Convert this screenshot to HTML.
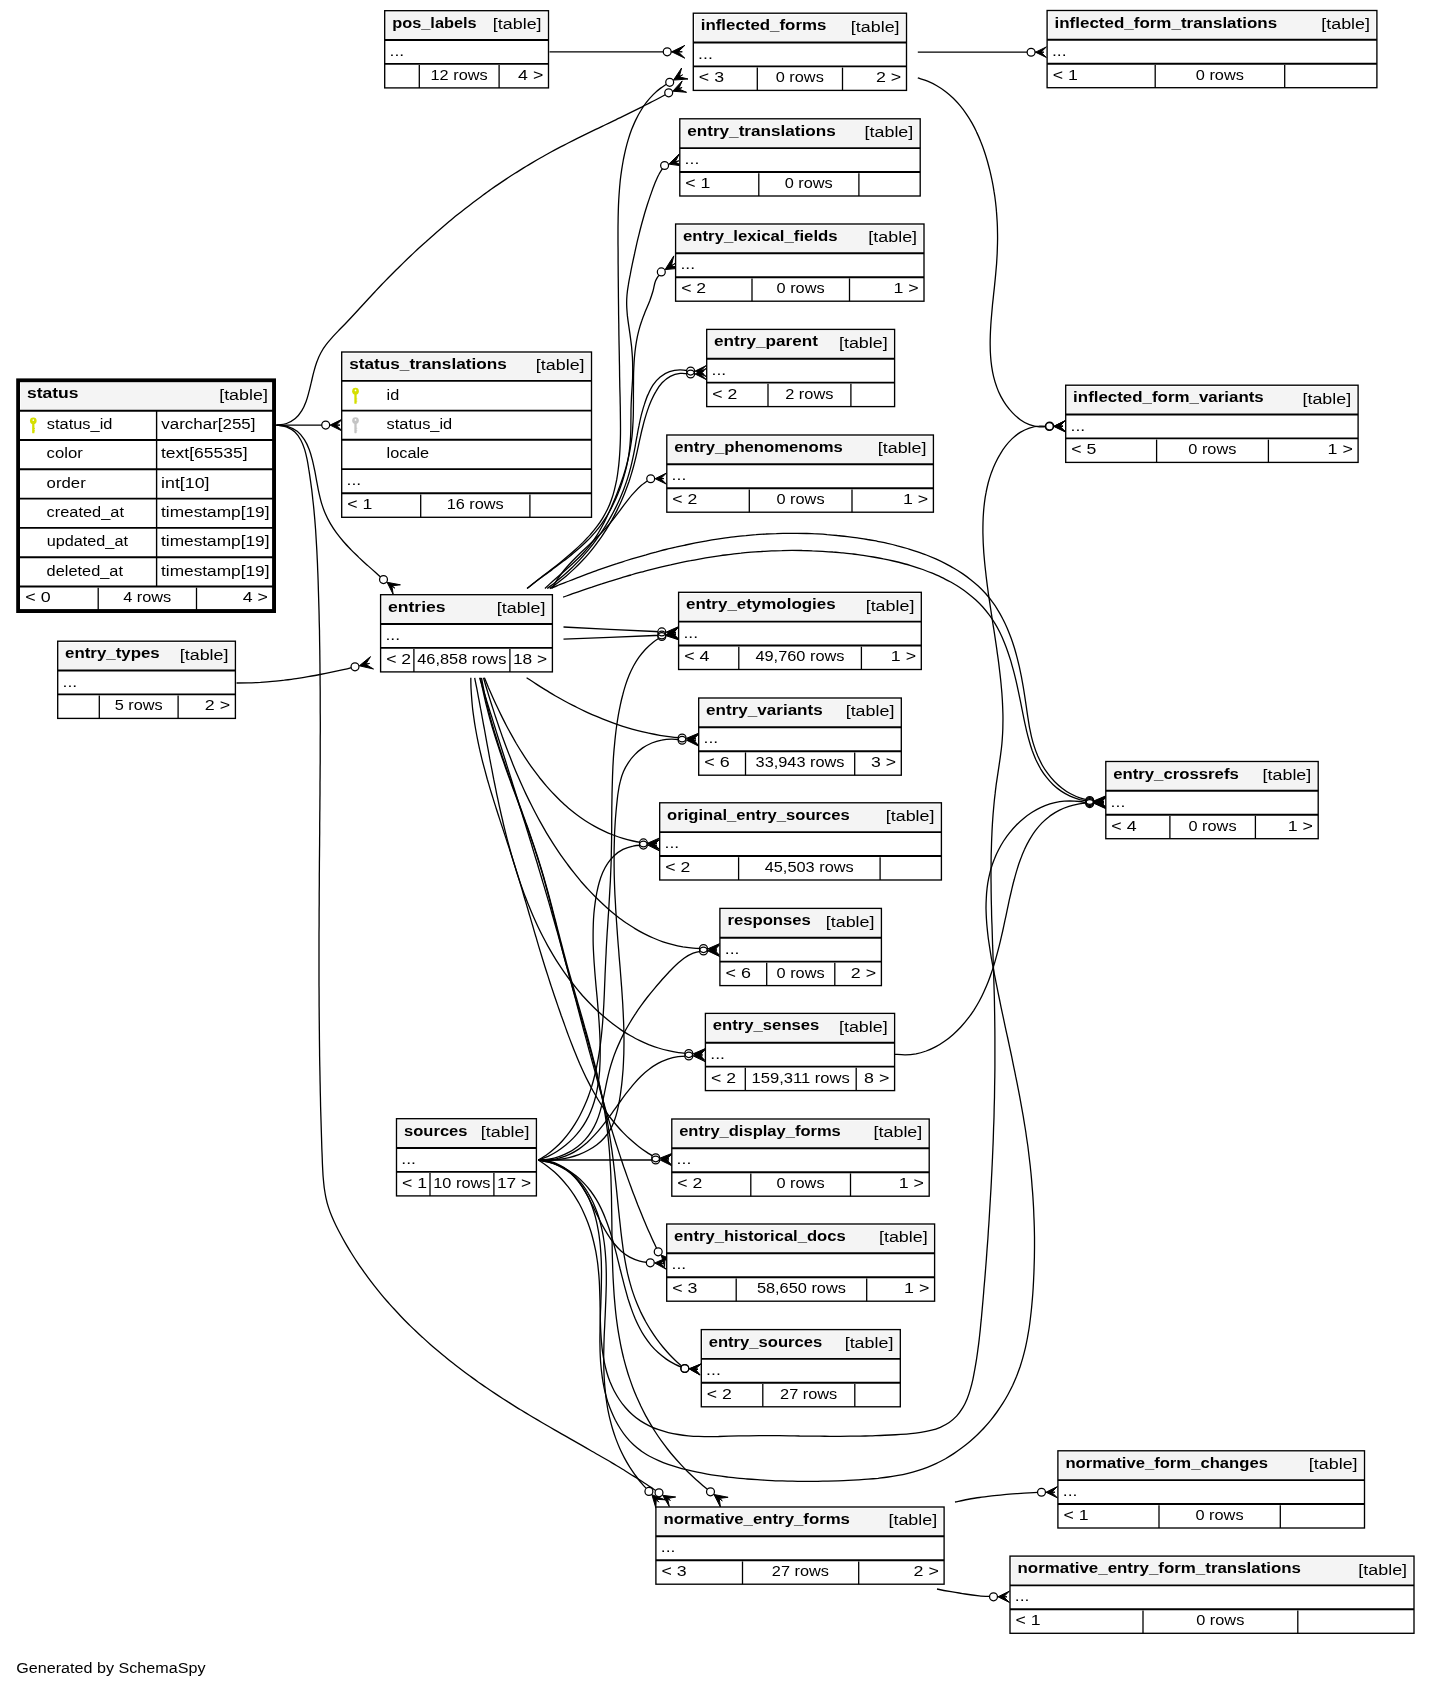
<!DOCTYPE html>
<html><head><meta charset="utf-8"><title>SchemaSpy relationships</title>
<style>
html,body{margin:0;padding:0;background:#fff;}
svg{display:block;will-change:transform;}
text{font-family:"Liberation Sans",sans-serif;font-size:15.2px;fill:#000;}
</style></head>
<body>
<svg width="1429" height="1688" viewBox="0 0 1429 1688">
<rect width="1429" height="1688" fill="#fff"/>
<g fill="none" stroke="#000" stroke-width="1.3"><path d="M276.4,425.1 C284.0,425.1 313.7,425.1 321.9,425.1 C330.1,425.1 325.1,425.1 325.7,425.1"/>
<path d="M276.4,425.1 C278.1,424.8 283.3,424.6 286.5,423.5 C289.6,422.5 292.8,420.7 295.3,418.6 C297.9,416.5 300.0,413.6 301.8,410.7 C303.6,407.9 304.9,404.7 306.1,401.5 C307.3,398.3 308.1,395.0 309.0,391.7 C309.9,388.4 310.6,385.1 311.4,381.8 C312.2,378.5 312.9,375.2 313.8,371.9 C314.7,368.6 315.6,365.3 316.8,362.1 C317.9,358.9 319.2,355.7 320.9,352.7 C322.5,349.8 324.4,346.9 326.5,344.2 C328.5,341.5 330.8,339.0 333.1,336.4 C335.3,333.9 337.7,331.5 340.1,329.0 C342.5,326.6 344.9,324.2 347.2,321.7 C349.6,319.2 351.9,316.7 354.2,314.2 C356.5,311.8 358.8,309.2 361.1,306.7 C363.4,304.2 365.7,301.7 368.0,299.2 C370.3,296.7 372.7,294.2 375.0,291.7 C377.3,289.3 379.7,286.8 382.0,284.3 C384.4,281.9 386.7,279.4 389.1,277.0 C391.5,274.6 393.9,272.2 396.3,269.8 C398.7,267.4 401.2,265.0 403.6,262.6 C406.1,260.2 408.5,257.9 411.0,255.5 C413.4,253.2 415.9,250.9 418.4,248.5 C420.9,246.2 423.4,243.9 426.0,241.7 C428.5,239.4 431.0,237.1 433.6,234.9 C436.2,232.6 438.7,230.4 441.3,228.2 C443.9,226.0 446.5,223.8 449.1,221.6 C451.7,219.4 454.4,217.3 457.0,215.1 C459.7,213.0 462.3,210.9 465.0,208.8 C467.7,206.7 470.4,204.6 473.1,202.5 C475.8,200.5 478.6,198.4 481.3,196.4 C484.0,194.4 486.8,192.4 489.6,190.4 C492.3,188.5 495.1,186.5 497.9,184.6 C500.8,182.7 503.6,180.8 506.4,178.9 C509.2,177.0 512.1,175.1 515.0,173.3 C517.8,171.5 520.7,169.7 523.6,167.9 C526.5,166.1 529.4,164.3 532.4,162.6 C535.3,160.9 538.3,159.2 541.2,157.5 C544.2,155.8 547.2,154.2 550.1,152.5 C553.1,150.9 556.1,149.3 559.2,147.7 C562.2,146.1 565.2,144.6 568.2,143.0 C571.3,141.5 574.3,140.0 577.3,138.4 C580.4,136.9 583.4,135.4 586.5,133.9 C589.6,132.4 592.6,130.9 595.7,129.4 C598.8,128.0 601.8,126.5 604.9,125.0 C608.0,123.5 611.0,122.1 614.1,120.6 C617.1,119.1 620.2,117.6 623.3,116.1 C626.3,114.6 629.4,113.1 632.4,111.6 C635.5,110.1 638.5,108.6 641.6,107.1 C644.6,105.5 647.7,104.0 650.7,102.4 C653.7,100.9 656.7,99.3 659.7,97.7 C662.7,96.1 667.2,93.6 668.7,92.8"/>
<path d="M276.4,425.1 C278.2,425.3 283.9,425.3 287.4,426.3 C290.8,427.4 294.3,429.1 297.2,431.3 C300.0,433.5 302.4,436.5 304.4,439.6 C306.4,442.6 307.9,446.1 309.2,449.5 C310.5,452.9 311.5,456.5 312.4,460.1 C313.3,463.7 314.0,467.3 314.8,470.9 C315.5,474.5 316.1,478.2 316.8,481.8 C317.5,485.4 318.1,489.1 318.9,492.7 C319.7,496.3 320.5,499.9 321.6,503.4 C322.7,506.9 323.9,510.4 325.4,513.8 C326.8,517.2 328.6,520.5 330.4,523.6 C332.3,526.8 334.3,529.9 336.5,532.9 C338.7,535.8 341.0,538.7 343.4,541.5 C345.8,544.3 348.4,547.0 350.9,549.6 C353.5,552.3 356.2,554.8 358.8,557.4 C361.5,559.9 364.3,562.4 367.0,564.9 C369.7,567.3 372.5,569.8 375.3,572.2 C378.0,574.7 382.1,578.4 383.5,579.6"/>
<path d="M276.4,425.1 C278.1,425.4 283.3,425.7 286.3,426.8 C289.4,428.0 292.5,429.9 294.9,432.1 C297.3,434.3 299.3,437.3 300.9,440.2 C302.5,443.1 303.6,446.4 304.7,449.6 C305.7,452.8 306.4,456.1 307.1,459.4 C307.8,462.7 308.3,466.1 308.8,469.4 C309.4,472.7 309.8,476.1 310.3,479.4 C310.8,482.7 311.2,486.1 311.7,489.4 C312.1,492.8 312.5,496.1 312.8,499.5 C313.2,502.8 313.6,506.2 313.9,509.6 C314.2,512.9 314.5,516.3 314.8,519.6 C315.1,523.0 315.3,526.4 315.6,529.7 C315.8,533.1 316.0,536.5 316.2,539.8 C316.4,543.2 316.6,546.6 316.8,549.9 C317.0,553.3 317.1,556.7 317.3,560.1 C317.5,563.4 317.6,566.8 317.7,570.2 C317.9,573.5 318.0,576.9 318.1,580.3 C318.2,583.7 318.3,587.0 318.4,590.4 C318.5,593.8 318.6,597.2 318.7,600.5 C318.8,603.9 318.9,607.3 319.0,610.6 C319.1,614.0 319.2,617.4 319.2,620.8 C319.3,624.1 319.4,627.5 319.5,630.9 C319.5,634.3 319.6,637.6 319.6,641.0 C319.7,644.4 319.7,647.8 319.8,651.1 C319.8,654.5 319.9,657.9 319.9,661.3 C320.0,664.6 320.0,668.0 320.0,671.4 C320.1,674.8 320.1,678.1 320.1,681.5 C320.1,684.9 320.2,688.3 320.2,691.6 C320.2,695.0 320.2,698.4 320.2,701.8 C320.2,705.1 320.2,708.5 320.2,711.9 C320.3,715.3 320.3,718.6 320.3,722.0 C320.3,725.4 320.3,728.8 320.3,732.1 C320.2,735.5 320.2,738.9 320.2,742.2 C320.2,745.6 320.2,749.0 320.2,752.4 C320.2,755.7 320.2,759.1 320.2,762.5 C320.1,765.9 320.1,769.2 320.1,772.6 C320.1,776.0 320.1,779.4 320.0,782.7 C320.0,786.1 320.0,789.5 320.0,792.9 C320.0,796.2 319.9,799.6 319.9,803.0 C319.9,806.4 319.9,809.7 319.8,813.1 C319.8,816.5 319.8,819.9 319.7,823.2 C319.7,826.6 319.7,830.0 319.7,833.4 C319.6,836.7 319.6,840.1 319.6,843.5 C319.6,846.9 319.5,850.2 319.5,853.6 C319.5,857.0 319.4,860.4 319.4,863.7 C319.4,867.1 319.4,870.5 319.3,873.9 C319.3,877.2 319.3,880.6 319.3,884.0 C319.3,887.4 319.2,890.7 319.2,894.1 C319.2,897.5 319.2,900.9 319.2,904.2 C319.1,907.6 319.1,911.0 319.1,914.4 C319.1,917.7 319.1,921.1 319.1,924.5 C319.1,927.9 319.0,931.2 319.0,934.6 C319.0,938.0 319.0,941.4 319.0,944.7 C319.0,948.1 319.0,951.5 319.0,954.8 C319.0,958.2 319.0,961.6 319.0,965.0 C319.0,968.3 319.0,971.7 319.0,975.1 C319.0,978.5 319.0,981.8 319.0,985.2 C319.1,988.6 319.1,992.0 319.1,995.3 C319.1,998.7 319.1,1002.1 319.1,1005.5 C319.2,1008.8 319.2,1012.2 319.2,1015.6 C319.2,1019.0 319.3,1022.3 319.3,1025.7 C319.3,1029.1 319.4,1032.5 319.4,1035.8 C319.4,1039.2 319.5,1042.6 319.5,1046.0 C319.6,1049.3 319.6,1052.7 319.6,1056.1 C319.7,1059.5 319.7,1062.8 319.8,1066.2 C319.9,1069.6 319.9,1073.0 320.0,1076.3 C320.0,1079.7 320.1,1083.1 320.2,1086.5 C320.2,1089.8 320.3,1093.2 320.4,1096.6 C320.5,1099.9 320.5,1103.3 320.6,1106.7 C320.7,1110.1 320.8,1113.4 320.9,1116.8 C321.0,1120.2 321.1,1123.6 321.2,1126.9 C321.3,1130.3 321.4,1133.7 321.5,1137.1 C321.6,1140.4 321.7,1143.8 321.8,1147.2 C321.9,1150.5 322.1,1153.9 322.2,1157.3 C322.3,1160.7 322.4,1164.0 322.6,1167.4 C322.8,1170.8 322.9,1174.2 323.2,1177.5 C323.5,1180.9 323.8,1184.2 324.2,1187.6 C324.7,1190.9 325.2,1194.3 325.9,1197.6 C326.6,1200.9 327.4,1204.1 328.5,1207.4 C329.5,1210.6 330.7,1213.7 332.0,1216.8 C333.3,1220.0 334.7,1223.0 336.2,1226.0 C337.7,1229.1 339.3,1232.1 340.9,1235.0 C342.5,1238.0 344.1,1240.9 345.8,1243.9 C347.5,1246.8 349.2,1249.7 351.0,1252.5 C352.8,1255.4 354.6,1258.3 356.5,1261.1 C358.3,1263.9 360.2,1266.7 362.2,1269.4 C364.1,1272.2 366.1,1274.9 368.1,1277.7 C370.1,1280.4 372.1,1283.0 374.2,1285.7 C376.3,1288.4 378.4,1291.0 380.6,1293.6 C382.7,1296.2 384.9,1298.8 387.1,1301.3 C389.4,1303.8 391.6,1306.4 393.9,1308.8 C396.2,1311.3 398.5,1313.8 400.8,1316.2 C403.1,1318.7 405.5,1321.1 407.9,1323.5 C410.3,1325.8 412.7,1328.2 415.2,1330.5 C417.6,1332.9 420.1,1335.2 422.6,1337.4 C425.0,1339.7 427.6,1342.0 430.1,1344.2 C432.6,1346.4 435.2,1348.6 437.8,1350.8 C440.3,1353.0 443.0,1355.1 445.6,1357.2 C448.2,1359.4 450.8,1361.5 453.5,1363.6 C456.1,1365.6 458.8,1367.7 461.5,1369.7 C464.2,1371.8 466.9,1373.8 469.6,1375.8 C472.4,1377.8 475.1,1379.7 477.8,1381.7 C480.6,1383.6 483.4,1385.6 486.2,1387.5 C488.9,1389.4 491.7,1391.3 494.5,1393.1 C497.3,1395.0 500.2,1396.9 503.0,1398.7 C505.8,1400.5 508.7,1402.3 511.5,1404.1 C514.4,1405.9 517.3,1407.7 520.1,1409.5 C523.0,1411.2 525.9,1413.0 528.8,1414.7 C531.7,1416.5 534.6,1418.2 537.5,1419.9 C540.4,1421.6 543.3,1423.3 546.2,1425.0 C549.2,1426.7 552.1,1428.4 555.0,1430.1 C557.9,1431.8 560.9,1433.4 563.8,1435.1 C566.7,1436.8 569.7,1438.4 572.6,1440.1 C575.5,1441.8 578.5,1443.5 581.4,1445.1 C584.3,1446.8 587.2,1448.5 590.2,1450.2 C593.1,1451.8 596.0,1453.5 598.9,1455.2 C601.9,1456.9 604.8,1458.6 607.7,1460.3 C610.6,1462.0 613.5,1463.8 616.4,1465.5 C619.3,1467.2 622.2,1469.0 625.0,1470.7 C627.9,1472.5 630.8,1474.3 633.6,1476.1 C636.5,1477.9 639.3,1479.7 642.2,1481.5 C645.0,1483.4 647.8,1485.2 650.6,1487.1 C653.4,1489.0 657.6,1491.9 659.0,1492.8"/>
<path d="M549.5,51.8 C568.4,51.8 643.4,51.8 663.0,51.8 C682.6,51.8 666.5,51.8 667.2,51.8"/>
<path d="M917.8,52.2 C936.0,52.2 1008.1,52.2 1027.0,52.2 C1045.9,52.2 1030.4,52.2 1031.1,52.2"/>
<path d="M917.8,77.9 C919.4,78.5 924.4,79.9 927.6,81.2 C930.8,82.5 933.9,84.1 936.8,85.8 C939.8,87.5 942.7,89.4 945.4,91.5 C948.2,93.6 950.8,95.9 953.3,98.3 C955.7,100.7 958.1,103.2 960.3,105.9 C962.5,108.5 964.5,111.3 966.4,114.1 C968.4,117.0 970.2,119.9 971.9,122.9 C973.6,125.9 975.2,129.0 976.6,132.1 C978.1,135.2 979.5,138.4 980.7,141.6 C982.0,144.8 983.2,148.0 984.3,151.3 C985.4,154.5 986.4,157.8 987.4,161.2 C988.3,164.5 989.2,167.8 990.0,171.2 C990.8,174.5 991.5,177.9 992.2,181.2 C992.9,184.6 993.5,188.0 994.0,191.4 C994.6,194.8 995.1,198.2 995.5,201.7 C995.9,205.1 996.3,208.5 996.5,211.9 C996.8,215.4 997.0,218.8 997.2,222.2 C997.4,225.7 997.5,229.1 997.5,232.6 C997.6,236.0 997.6,239.5 997.5,242.9 C997.4,246.4 997.3,249.8 997.2,253.2 C997.0,256.7 996.8,260.1 996.6,263.6 C996.3,267.0 996.0,270.4 995.7,273.9 C995.4,277.3 995.1,280.7 994.7,284.1 C994.4,287.6 994.0,291.0 993.6,294.4 C993.3,297.9 992.9,301.3 992.5,304.7 C992.2,308.1 991.9,311.6 991.6,315.0 C991.3,318.4 991.0,321.9 990.8,325.3 C990.6,328.7 990.4,332.2 990.3,335.6 C990.2,339.1 990.1,342.5 990.2,346.0 C990.2,349.4 990.3,352.8 990.6,356.3 C990.8,359.7 991.2,363.2 991.7,366.6 C992.2,370.0 992.8,373.4 993.6,376.7 C994.4,380.0 995.4,383.4 996.6,386.6 C997.7,389.8 999.1,393.0 1000.7,396.1 C1002.3,399.1 1004.0,402.1 1006.0,404.9 C1008.0,407.7 1010.2,410.4 1012.6,412.9 C1015.0,415.4 1017.5,417.7 1020.3,419.7 C1023.1,421.7 1026.2,423.5 1029.4,424.7 C1032.6,425.9 1036.0,426.7 1039.4,426.9 C1042.8,427.2 1048.0,426.2 1049.7,426.1"/>
<path d="M527.1,588.4 C528.5,587.3 532.5,584.1 535.2,582.0 C537.9,579.8 540.7,577.7 543.4,575.6 C546.1,573.5 548.9,571.4 551.6,569.3 C554.3,567.2 557.0,565.1 559.7,562.9 C562.4,560.7 565.1,558.6 567.7,556.3 C570.3,554.1 572.9,551.9 575.5,549.5 C578.0,547.2 580.5,544.8 583.0,542.4 C585.4,539.9 587.8,537.4 590.1,534.9 C592.3,532.3 594.6,529.6 596.6,526.9 C598.7,524.1 600.7,521.3 602.5,518.3 C604.3,515.4 606.0,512.4 607.5,509.3 C609.0,506.2 610.3,503.0 611.4,499.7 C612.6,496.5 613.6,493.2 614.4,489.8 C615.3,486.5 616.0,483.1 616.7,479.7 C617.3,476.3 617.8,472.9 618.2,469.5 C618.7,466.1 619.0,462.6 619.3,459.2 C619.6,455.8 619.8,452.3 620.0,448.9 C620.2,445.4 620.3,442.0 620.4,438.5 C620.5,435.1 620.5,431.7 620.5,428.2 C620.5,424.8 620.5,421.3 620.4,417.9 C620.4,414.4 620.3,411.0 620.3,407.5 C620.2,404.1 620.1,400.6 620.1,397.2 C620.0,393.7 619.9,390.3 619.8,386.8 C619.8,383.4 619.7,379.9 619.6,376.5 C619.6,373.0 619.5,369.6 619.5,366.1 C619.4,362.7 619.3,359.2 619.3,355.8 C619.2,352.3 619.2,348.9 619.1,345.4 C619.0,342.0 619.0,338.5 618.9,335.1 C618.9,331.6 618.8,328.2 618.8,324.7 C618.7,321.3 618.7,317.9 618.6,314.4 C618.6,311.0 618.6,307.5 618.5,304.1 C618.5,300.6 618.4,297.2 618.4,293.7 C618.4,290.3 618.3,286.8 618.3,283.4 C618.3,279.9 618.2,276.5 618.2,273.0 C618.2,269.6 618.2,266.1 618.1,262.7 C618.1,259.2 618.1,255.8 618.1,252.3 C618.1,248.9 618.0,245.4 618.0,242.0 C618.0,238.5 618.0,235.1 618.0,231.6 C618.0,228.2 618.0,224.7 618.1,221.3 C618.1,217.8 618.2,214.4 618.3,210.9 C618.4,207.5 618.5,204.0 618.7,200.6 C618.9,197.2 619.1,193.7 619.4,190.3 C619.6,186.8 620.0,183.4 620.3,180.0 C620.7,176.5 621.2,173.1 621.7,169.7 C622.2,166.3 622.8,162.9 623.4,159.5 C624.1,156.1 624.8,152.8 625.6,149.4 C626.4,146.1 627.3,142.7 628.3,139.4 C629.3,136.1 630.4,132.8 631.6,129.6 C632.9,126.4 634.2,123.2 635.7,120.1 C637.2,117.0 638.8,113.9 640.6,111.0 C642.3,108.0 644.3,105.1 646.4,102.4 C648.5,99.7 650.7,97.1 653.2,94.6 C655.6,92.2 658.2,89.9 661.0,87.9 C663.7,85.8 668.2,83.2 669.7,82.3"/>
<path d="M527.1,588.4 C528.5,587.3 532.6,584.1 535.3,582.0 C538.1,579.9 540.9,577.8 543.7,575.8 C546.5,573.7 549.3,571.6 552.1,569.6 C554.9,567.5 557.7,565.4 560.5,563.3 C563.3,561.2 566.1,559.1 568.8,557.0 C571.5,554.8 574.2,552.6 576.8,550.3 C579.5,548.1 582.1,545.7 584.6,543.3 C587.1,540.9 589.6,538.5 591.9,535.9 C594.3,533.3 596.5,530.7 598.7,527.9 C600.8,525.2 602.8,522.3 604.7,519.4 C606.6,516.5 608.4,513.5 610.1,510.5 C611.7,507.4 613.3,504.3 614.7,501.1 C616.2,498.0 617.5,494.7 618.8,491.5 C620.1,488.3 621.2,485.0 622.3,481.7 C623.4,478.4 624.4,475.0 625.3,471.7 C626.2,468.3 627.0,464.9 627.6,461.5 C628.3,458.1 628.9,454.6 629.3,451.2 C629.8,447.7 630.1,444.3 630.3,440.8 C630.6,437.3 630.7,433.8 630.8,430.4 C630.9,426.9 630.9,423.4 630.9,419.9 C631.0,416.4 631.0,413.0 631.0,409.5 C631.1,406.0 631.2,402.5 631.4,399.1 C631.5,395.6 631.8,392.1 632.0,388.6 C632.2,385.2 632.5,381.7 632.6,378.2 C632.7,374.7 632.7,371.2 632.7,367.8 C632.7,364.3 632.6,360.8 632.4,357.3 C632.2,353.9 631.9,350.4 631.6,346.9 C631.2,343.5 630.8,340.0 630.3,336.6 C629.9,333.1 629.3,329.7 628.8,326.2 C628.3,322.8 627.8,319.3 627.4,315.9 C627.1,312.4 626.8,308.9 626.7,305.5 C626.6,302.0 626.7,298.5 627.0,295.0 C627.3,291.6 627.8,288.1 628.4,284.7 C628.9,281.2 629.6,277.8 630.3,274.4 C630.9,271.0 631.6,267.6 632.3,264.2 C633.0,260.8 633.7,257.4 634.5,254.0 C635.2,250.6 636.0,247.2 636.7,243.8 C637.5,240.4 638.3,237.0 639.2,233.6 C640.0,230.2 640.9,226.9 641.8,223.5 C642.7,220.2 643.7,216.8 644.6,213.5 C645.6,210.1 646.7,206.8 647.7,203.5 C648.8,200.2 649.9,196.9 651.1,193.6 C652.2,190.3 653.4,187.0 654.7,183.8 C656.1,180.6 657.3,177.3 659.0,174.3 C660.6,171.2 663.7,167.0 664.6,165.5"/>
<path d="M544.9,588.4 C546.2,587.2 550.1,583.6 552.7,581.2 C555.4,578.9 558.0,576.6 560.7,574.3 C563.3,571.9 566.0,569.6 568.7,567.2 C571.3,564.9 573.9,562.5 576.4,560.0 C579.0,557.6 581.5,555.1 583.8,552.5 C586.2,549.9 588.5,547.2 590.7,544.4 C592.8,541.5 594.8,538.6 596.7,535.6 C598.6,532.7 600.3,529.6 602.0,526.5 C603.7,523.4 605.3,520.2 606.8,517.0 C608.3,513.8 609.8,510.6 611.2,507.4 C612.6,504.1 614.0,500.9 615.4,497.6 C616.7,494.3 618.0,491.0 619.2,487.7 C620.5,484.4 621.6,481.1 622.8,477.7 C623.9,474.4 624.9,471.0 625.9,467.6 C626.8,464.2 627.7,460.8 628.5,457.3 C629.3,453.9 630.0,450.4 630.5,446.9 C631.1,443.4 631.6,439.9 632.0,436.4 C632.4,432.9 632.6,429.4 632.8,425.9 C633.1,422.3 633.2,418.8 633.3,415.3 C633.4,411.7 633.4,408.2 633.4,404.7 C633.5,401.1 633.4,397.6 633.4,394.1 C633.5,390.5 633.4,387.0 633.5,383.5 C633.5,379.9 633.5,376.4 633.6,372.9 C633.7,369.3 633.9,365.8 634.1,362.3 C634.3,358.7 634.6,355.2 635.0,351.7 C635.4,348.2 635.9,344.7 636.5,341.2 C637.1,337.7 637.8,334.2 638.7,330.8 C639.6,327.4 640.6,324.0 641.8,320.7 C642.9,317.3 644.3,314.1 645.6,310.8 C647.0,307.5 648.4,304.3 649.7,301.0 C650.9,297.7 652.0,294.3 653.0,291.0 C654.0,287.6 654.2,283.9 655.6,280.7 C657.0,277.5 660.4,273.4 661.3,271.9"/>
<path d="M547.2,588.4 C548.6,587.3 553.0,584.2 555.8,581.9 C558.6,579.7 561.3,577.4 564.0,575.1 C566.7,572.7 569.3,570.3 571.9,567.8 C574.4,565.3 576.9,562.7 579.4,560.1 C581.8,557.5 584.2,554.8 586.5,552.1 C588.8,549.4 591.0,546.6 593.2,543.8 C595.4,540.9 597.5,538.0 599.5,535.1 C601.6,532.2 603.5,529.2 605.4,526.1 C607.3,523.1 609.1,520.0 610.8,516.9 C612.6,513.8 614.2,510.6 615.8,507.4 C617.4,504.2 618.9,500.9 620.3,497.7 C621.7,494.4 623.1,491.1 624.3,487.7 C625.6,484.4 626.7,481.0 627.8,477.6 C628.9,474.2 629.8,470.7 630.7,467.3 C631.6,463.8 632.4,460.3 633.1,456.8 C633.9,453.3 634.5,449.8 635.2,446.3 C635.8,442.8 636.4,439.2 637.1,435.7 C637.7,432.2 638.3,428.7 639.1,425.2 C639.8,421.7 640.5,418.2 641.4,414.7 C642.3,411.3 643.2,407.8 644.4,404.4 C645.5,401.0 646.6,397.6 648.1,394.4 C649.6,391.1 651.1,387.8 653.1,384.9 C655.1,382.0 657.4,379.1 660.2,376.9 C662.9,374.7 666.2,372.9 669.5,371.7 C672.8,370.5 676.5,369.9 680.0,369.8 C683.5,369.7 688.8,370.9 690.6,371.1"/>
<path d="M549.6,588.4 C551.0,587.4 555.3,584.5 558.1,582.4 C560.9,580.3 563.6,578.1 566.3,575.9 C569.0,573.6 571.6,571.3 574.1,568.9 C576.7,566.5 579.1,564.0 581.5,561.5 C583.9,559.0 586.3,556.4 588.5,553.8 C590.8,551.1 593.0,548.4 595.1,545.6 C597.2,542.9 599.3,540.0 601.3,537.2 C603.2,534.3 605.1,531.4 607.0,528.4 C608.8,525.5 610.6,522.4 612.3,519.4 C613.9,516.3 615.6,513.3 617.1,510.1 C618.6,507.0 620.1,503.8 621.5,500.7 C622.9,497.5 624.2,494.2 625.5,491.0 C626.8,487.7 627.9,484.5 629.1,481.2 C630.2,477.9 631.2,474.5 632.2,471.2 C633.2,467.8 634.1,464.5 634.9,461.1 C635.8,457.7 636.5,454.3 637.3,450.9 C638.1,447.5 638.8,444.1 639.5,440.7 C640.3,437.3 641.0,433.9 641.8,430.5 C642.7,427.1 643.5,423.7 644.4,420.4 C645.4,417.0 646.4,413.7 647.5,410.4 C648.6,407.1 649.9,403.8 651.3,400.6 C652.7,397.4 654.1,394.2 656.0,391.3 C657.8,388.3 659.7,385.3 662.1,382.8 C664.5,380.4 667.2,378.0 670.3,376.4 C673.3,374.8 676.8,373.8 680.2,373.4 C683.6,373.0 688.9,373.9 690.6,374.0"/>
<path d="M552.0,588.4 C553.0,586.8 555.7,581.8 557.8,578.6 C560.0,575.5 562.3,572.4 564.7,569.5 C567.2,566.6 569.7,563.8 572.4,561.0 C575.0,558.3 577.7,555.6 580.4,553.0 C583.2,550.3 586.0,547.7 588.7,545.1 C591.5,542.5 594.2,539.9 596.9,537.2 C599.7,534.5 602.4,531.9 604.9,529.1 C607.5,526.3 610.0,523.4 612.4,520.4 C614.8,517.5 617.0,514.4 619.3,511.4 C621.6,508.3 623.8,505.2 626.2,502.2 C628.5,499.2 630.8,496.2 633.4,493.4 C635.9,490.6 638.5,487.8 641.4,485.3 C644.3,482.9 649.2,479.8 650.7,478.7"/>
<path d="M550.2,588.6 C551.8,588.0 556.5,586.0 559.6,584.7 C562.8,583.5 565.9,582.2 569.1,581.0 C572.2,579.7 575.4,578.5 578.5,577.3 C581.7,576.1 584.9,574.9 588.1,573.7 C591.2,572.5 594.4,571.4 597.6,570.2 C600.8,569.1 604.0,568.0 607.2,566.9 C610.4,565.8 613.7,564.7 616.9,563.7 C620.1,562.6 623.3,561.6 626.6,560.5 C629.8,559.5 633.1,558.5 636.3,557.6 C639.6,556.6 642.8,555.7 646.1,554.8 C649.3,553.8 652.6,552.9 655.9,552.1 C659.2,551.2 662.5,550.4 665.7,549.5 C669.0,548.7 672.3,547.9 675.6,547.2 C678.9,546.4 682.3,545.7 685.6,545.0 C688.9,544.3 692.2,543.6 695.5,542.9 C698.9,542.3 702.2,541.7 705.5,541.1 C708.9,540.5 712.2,539.9 715.6,539.4 C718.9,538.9 722.3,538.4 725.6,537.9 C729.0,537.5 732.4,537.0 735.7,536.6 C739.1,536.2 742.5,535.9 745.9,535.6 C749.2,535.2 752.6,534.9 756.0,534.7 C759.4,534.4 762.8,534.2 766.1,534.0 C769.5,533.8 772.9,533.7 776.3,533.6 C779.7,533.4 783.1,533.4 786.5,533.3 C789.9,533.3 793.3,533.3 796.6,533.3 C800.0,533.3 803.4,533.4 806.8,533.5 C810.2,533.6 813.6,533.8 817.0,533.9 C820.4,534.1 823.8,534.3 827.1,534.6 C830.5,534.8 833.9,535.1 837.3,535.5 C840.6,535.8 844.0,536.2 847.4,536.6 C850.8,537.0 854.1,537.4 857.5,537.9 C860.8,538.4 864.2,538.9 867.5,539.5 C870.9,540.0 874.2,540.7 877.5,541.3 C880.9,542.0 884.2,542.6 887.5,543.4 C890.8,544.1 894.1,544.9 897.4,545.8 C900.7,546.6 903.9,547.5 907.2,548.5 C910.4,549.5 913.7,550.5 916.9,551.6 C920.1,552.7 923.3,553.8 926.4,555.0 C929.6,556.3 932.7,557.6 935.8,558.9 C938.9,560.3 942.0,561.8 945.0,563.3 C948.0,564.9 951.0,566.5 953.9,568.2 C956.9,569.9 959.7,571.7 962.5,573.6 C965.3,575.5 968.1,577.6 970.7,579.7 C973.4,581.8 976.0,584.0 978.5,586.3 C980.9,588.6 983.3,591.0 985.6,593.5 C987.8,596.1 990.0,598.7 992.0,601.4 C994.1,604.1 996.0,606.9 997.7,609.8 C999.5,612.7 1001.2,615.7 1002.7,618.7 C1004.3,621.7 1005.7,624.8 1007.1,627.9 C1008.4,631.0 1009.6,634.2 1010.8,637.3 C1012.0,640.5 1013.1,643.8 1014.1,647.0 C1015.1,650.2 1016.0,653.5 1016.9,656.8 C1017.7,660.0 1018.5,663.3 1019.3,666.7 C1020.0,670.0 1020.7,673.3 1021.4,676.6 C1022.0,679.9 1022.6,683.3 1023.2,686.6 C1023.8,690.0 1024.3,693.3 1024.8,696.7 C1025.3,700.0 1025.8,703.4 1026.3,706.7 C1026.8,710.1 1027.2,713.4 1027.8,716.8 C1028.3,720.1 1028.8,723.5 1029.4,726.8 C1030.1,730.2 1030.7,733.5 1031.5,736.8 C1032.3,740.1 1033.2,743.4 1034.3,746.6 C1035.3,749.8 1036.5,753.0 1037.8,756.1 C1039.2,759.2 1040.7,762.3 1042.3,765.2 C1044.0,768.2 1045.9,771.0 1047.9,773.7 C1049.9,776.5 1052.1,779.1 1054.5,781.5 C1056.8,783.9 1059.4,786.2 1062.1,788.2 C1064.7,790.3 1067.6,792.2 1070.6,793.8 C1073.6,795.4 1076.7,796.8 1079.9,797.9 C1083.1,799.0 1088.1,800.1 1089.7,800.5"/>
<path d="M563.1,597.2 C564.7,596.6 569.5,594.9 572.7,593.7 C575.9,592.6 579.1,591.5 582.3,590.4 C585.6,589.2 588.8,588.1 592.0,587.1 C595.2,586.0 598.5,584.9 601.7,583.9 C604.9,582.8 608.2,581.8 611.4,580.8 C614.7,579.8 617.9,578.8 621.2,577.8 C624.5,576.9 627.7,575.9 631.0,575.0 C634.3,574.0 637.6,573.1 640.9,572.2 C644.1,571.4 647.4,570.5 650.7,569.6 C654.0,568.8 657.3,568.0 660.6,567.2 C663.9,566.4 667.3,565.6 670.6,564.9 C673.9,564.1 677.2,563.4 680.6,562.7 C683.9,562.0 687.2,561.3 690.6,560.7 C693.9,560.0 697.3,559.4 700.6,558.8 C704.0,558.2 707.3,557.7 710.7,557.1 C714.0,556.6 717.4,556.1 720.8,555.6 C724.1,555.2 727.5,554.7 730.9,554.3 C734.3,553.9 737.7,553.5 741.0,553.2 C744.4,552.8 747.8,552.5 751.2,552.2 C754.6,551.9 758.0,551.7 761.4,551.5 C764.8,551.2 768.2,551.1 771.6,550.9 C775.0,550.8 778.4,550.6 781.8,550.6 C785.2,550.5 788.6,550.4 792.0,550.4 C795.4,550.4 798.8,550.4 802.2,550.5 C805.6,550.5 809.0,550.6 812.4,550.8 C815.8,550.9 819.2,551.1 822.6,551.3 C826.0,551.5 829.4,551.7 832.8,552.0 C836.2,552.2 839.6,552.6 843.0,552.9 C846.4,553.2 849.7,553.6 853.1,554.0 C856.5,554.5 859.9,554.9 863.2,555.4 C866.6,555.9 870.0,556.4 873.3,557.0 C876.7,557.6 880.0,558.2 883.4,558.9 C886.7,559.5 890.0,560.2 893.3,561.0 C896.7,561.8 900.0,562.6 903.3,563.5 C906.5,564.3 909.8,565.3 913.1,566.3 C916.3,567.3 919.6,568.4 922.8,569.5 C926.0,570.7 929.1,571.9 932.3,573.2 C935.4,574.5 938.5,575.9 941.6,577.3 C944.7,578.8 947.7,580.4 950.7,582.0 C953.6,583.7 956.6,585.4 959.4,587.3 C962.3,589.2 965.1,591.1 967.7,593.2 C970.4,595.3 973.1,597.5 975.6,599.8 C978.1,602.1 980.5,604.5 982.8,607.0 C985.0,609.5 987.2,612.2 989.2,614.9 C991.3,617.6 993.1,620.5 994.9,623.4 C996.7,626.3 998.3,629.3 999.8,632.3 C1001.3,635.4 1002.7,638.5 1004.0,641.7 C1005.3,644.8 1006.5,648.0 1007.6,651.2 C1008.7,654.4 1009.8,657.7 1010.8,660.9 C1011.7,664.2 1012.6,667.4 1013.5,670.7 C1014.4,674.0 1015.2,677.3 1016.0,680.6 C1016.8,684.0 1017.5,687.3 1018.2,690.6 C1018.9,693.9 1019.6,697.3 1020.3,700.6 C1021.0,703.9 1021.6,707.3 1022.3,710.6 C1023.0,714.0 1023.6,717.3 1024.3,720.6 C1025.0,724.0 1025.8,727.3 1026.5,730.6 C1027.3,733.9 1028.1,737.2 1029.1,740.5 C1030.0,743.8 1031.0,747.0 1032.1,750.2 C1033.3,753.4 1034.5,756.6 1035.9,759.7 C1037.4,762.8 1038.9,765.8 1040.6,768.8 C1042.4,771.7 1044.3,774.5 1046.4,777.2 C1048.5,779.9 1050.8,782.4 1053.2,784.7 C1055.7,787.1 1058.4,789.2 1061.2,791.1 C1064.0,793.0 1067.0,794.7 1070.1,796.1 C1073.2,797.5 1076.4,798.6 1079.7,799.6 C1083.0,800.5 1088.0,801.3 1089.7,801.6"/>
<path d="M563.5,627.0 C578.8,627.8 638.6,630.7 655.0,631.5 C671.4,632.3 660.7,631.8 661.8,631.9"/>
<path d="M563.5,639.2 C578.8,638.6 638.6,636.2 655.0,635.5 C671.4,634.8 660.7,635.1 661.8,635.0"/>
<path d="M526.6,677.7 C528.2,678.7 532.8,681.9 536.0,683.9 C539.1,686.0 542.3,688.0 545.5,689.9 C548.7,691.9 551.9,693.8 555.1,695.7 C558.4,697.6 561.7,699.4 565.0,701.2 C568.2,703.0 571.6,704.7 574.9,706.4 C578.3,708.1 581.6,709.8 585.0,711.3 C588.4,712.9 591.8,714.5 595.3,715.9 C598.7,717.4 602.2,718.8 605.7,720.2 C609.2,721.6 612.7,722.9 616.3,724.1 C619.8,725.3 623.4,726.5 627.0,727.6 C630.5,728.7 634.2,729.7 637.8,730.6 C641.4,731.6 645.1,732.4 648.7,733.2 C652.4,734.0 656.1,734.7 659.8,735.3 C663.5,736.0 667.2,736.5 670.9,736.9 C674.6,737.4 680.2,737.8 682.1,738.0"/>
<path d="M484.4,677.8 C485.1,679.4 487.1,684.2 488.4,687.4 C489.8,690.6 491.2,693.8 492.6,697.0 C494.0,700.2 495.5,703.3 497.0,706.5 C498.5,709.6 500.0,712.8 501.5,715.9 C503.0,719.0 504.6,722.1 506.2,725.2 C507.8,728.3 509.5,731.4 511.2,734.4 C512.9,737.5 514.6,740.5 516.3,743.5 C518.1,746.5 519.9,749.5 521.8,752.4 C523.6,755.3 525.5,758.3 527.5,761.2 C529.4,764.0 531.4,766.9 533.5,769.7 C535.6,772.5 537.7,775.3 539.8,778.0 C542.0,780.7 544.2,783.4 546.5,786.1 C548.8,788.7 551.1,791.3 553.5,793.8 C555.9,796.3 558.3,798.8 560.9,801.2 C563.4,803.6 566.0,805.9 568.6,808.2 C571.3,810.4 574.0,812.6 576.8,814.7 C579.6,816.8 582.4,818.8 585.3,820.7 C588.3,822.6 591.2,824.4 594.3,826.1 C597.3,827.8 600.4,829.4 603.6,830.9 C606.7,832.4 609.9,833.7 613.2,835.0 C616.4,836.2 619.7,837.4 623.0,838.4 C626.4,839.4 629.7,840.2 633.1,841.0 C636.5,841.8 641.7,842.6 643.4,842.9"/>
<path d="M483.5,677.8 C484.0,679.5 485.4,684.4 486.4,687.7 C487.4,691.0 488.4,694.3 489.4,697.6 C490.4,700.9 491.5,704.2 492.5,707.4 C493.6,710.7 494.6,714.0 495.7,717.3 C496.8,720.5 497.9,723.8 499.0,727.0 C500.1,730.3 501.3,733.5 502.4,736.8 C503.6,740.0 504.8,743.2 506.0,746.5 C507.2,749.7 508.4,752.9 509.7,756.1 C510.9,759.3 512.2,762.5 513.5,765.7 C514.8,768.9 516.1,772.1 517.5,775.2 C518.9,778.4 520.2,781.5 521.7,784.7 C523.1,787.8 524.5,790.9 526.0,794.1 C527.5,797.2 529.0,800.3 530.5,803.3 C532.0,806.4 533.6,809.5 535.2,812.5 C536.8,815.6 538.4,818.6 540.1,821.6 C541.8,824.6 543.5,827.6 545.2,830.6 C546.9,833.6 548.7,836.5 550.5,839.4 C552.3,842.4 554.2,845.3 556.1,848.1 C558.0,851.0 559.9,853.9 561.9,856.7 C563.9,859.5 565.9,862.3 568.0,865.0 C570.0,867.8 572.1,870.5 574.3,873.2 C576.4,875.9 578.6,878.5 580.8,881.2 C583.1,883.8 585.4,886.4 587.7,888.9 C590.0,891.4 592.4,893.9 594.8,896.3 C597.3,898.8 599.7,901.2 602.3,903.5 C604.8,905.9 607.3,908.2 610.0,910.4 C612.6,912.6 615.3,914.8 618.0,916.9 C620.7,919.0 623.5,921.0 626.3,923.0 C629.2,924.9 632.1,926.8 635.0,928.6 C637.9,930.4 640.9,932.0 644.0,933.6 C647.1,935.2 650.2,936.7 653.3,938.0 C656.5,939.4 659.7,940.7 663.0,941.8 C666.2,942.9 669.5,943.9 672.8,944.7 C676.2,945.6 679.6,946.3 682.9,946.9 C686.3,947.4 689.8,947.9 693.2,948.2 C696.6,948.5 701.8,948.5 703.5,948.6"/>
<path d="M474.7,677.8 C475.0,679.5 476.0,684.5 476.7,687.9 C477.4,691.3 478.0,694.7 478.6,698.1 C479.3,701.4 479.9,704.8 480.5,708.2 C481.2,711.6 481.8,715.0 482.4,718.3 C483.0,721.7 483.6,725.1 484.3,728.5 C484.9,731.9 485.5,735.3 486.1,738.6 C486.7,742.0 487.3,745.4 488.0,748.8 C488.6,752.2 489.2,755.5 489.8,758.9 C490.5,762.3 491.1,765.7 491.8,769.1 C492.4,772.4 493.1,775.8 493.7,779.2 C494.4,782.6 495.1,785.9 495.8,789.3 C496.4,792.7 497.1,796.0 497.9,799.4 C498.6,802.8 499.3,806.1 500.1,809.5 C500.8,812.8 501.6,816.2 502.4,819.5 C503.1,822.9 503.9,826.2 504.8,829.6 C505.6,832.9 506.4,836.2 507.3,839.6 C508.2,842.9 509.1,846.2 510.0,849.5 C510.9,852.8 511.8,856.1 512.8,859.4 C513.8,862.7 514.8,866.0 515.8,869.3 C516.8,872.6 517.9,875.9 519.0,879.1 C520.1,882.4 521.2,885.6 522.4,888.9 C523.5,892.1 524.7,895.3 526.0,898.5 C527.2,901.8 528.5,905.0 529.8,908.1 C531.1,911.3 532.4,914.5 533.8,917.6 C535.2,920.8 536.6,923.9 538.1,927.0 C539.6,930.1 541.1,933.2 542.7,936.2 C544.3,939.3 545.9,942.3 547.5,945.4 C549.2,948.4 550.9,951.3 552.7,954.3 C554.4,957.2 556.2,960.2 558.1,963.1 C560.0,966.0 561.9,968.8 563.8,971.6 C565.8,974.5 567.8,977.2 569.9,980.0 C572.0,982.7 574.1,985.4 576.3,988.1 C578.4,990.8 580.7,993.4 582.9,996.0 C585.2,998.5 587.6,1001.1 590.0,1003.5 C592.4,1006.0 594.8,1008.4 597.3,1010.8 C599.8,1013.1 602.4,1015.4 605.0,1017.6 C607.6,1019.9 610.3,1022.0 613.0,1024.1 C615.8,1026.2 618.6,1028.2 621.4,1030.1 C624.3,1032.0 627.2,1033.8 630.2,1035.5 C633.2,1037.2 636.2,1038.9 639.3,1040.4 C642.4,1041.9 645.5,1043.3 648.7,1044.6 C651.9,1045.8 655.2,1047.0 658.4,1048.0 C661.7,1049.1 665.0,1050.0 668.4,1050.7 C671.7,1051.5 675.1,1052.1 678.5,1052.6 C681.9,1053.1 687.1,1053.4 688.8,1053.6"/>
<path d="M470.8,677.8 C470.8,679.5 470.9,684.7 471.0,688.1 C471.2,691.5 471.4,695.0 471.7,698.4 C471.9,701.8 472.3,705.2 472.6,708.6 C473.0,712.1 473.5,715.5 474.0,718.9 C474.4,722.3 475.0,725.7 475.6,729.0 C476.2,732.4 476.8,735.8 477.5,739.2 C478.1,742.5 478.9,745.9 479.6,749.2 C480.4,752.6 481.2,755.9 482.0,759.3 C482.8,762.6 483.7,765.9 484.6,769.2 C485.5,772.6 486.4,775.9 487.3,779.2 C488.3,782.5 489.2,785.8 490.2,789.1 C491.2,792.4 492.2,795.6 493.2,798.9 C494.2,802.2 495.3,805.5 496.3,808.8 C497.3,812.0 498.4,815.3 499.5,818.6 C500.5,821.8 501.6,825.1 502.7,828.4 C503.7,831.6 504.8,834.9 505.9,838.1 C506.9,841.4 508.0,844.7 509.1,847.9 C510.1,851.2 511.2,854.5 512.3,857.7 C513.3,861.0 514.3,864.3 515.4,867.6 C516.4,870.8 517.4,874.1 518.4,877.4 C519.4,880.7 520.4,884.0 521.4,887.3 C522.4,890.6 523.3,893.9 524.3,897.2 C525.3,900.4 526.2,903.7 527.2,907.0 C528.2,910.3 529.1,913.6 530.1,916.9 C531.0,920.2 532.0,923.5 533.0,926.8 C533.9,930.1 534.9,933.4 535.9,936.7 C536.8,940.0 537.8,943.3 538.8,946.6 C539.8,949.9 540.8,953.2 541.8,956.5 C542.8,959.7 543.8,963.0 544.8,966.3 C545.9,969.6 546.9,972.8 548.0,976.1 C549.0,979.4 550.1,982.7 551.1,985.9 C552.2,989.2 553.3,992.4 554.4,995.7 C555.5,998.9 556.6,1002.2 557.7,1005.4 C558.8,1008.7 560.0,1011.9 561.1,1015.2 C562.3,1018.4 563.4,1021.6 564.6,1024.9 C565.7,1028.1 566.9,1031.3 568.1,1034.6 C569.3,1037.8 570.5,1041.0 571.8,1044.2 C573.0,1047.4 574.3,1050.6 575.6,1053.8 C576.8,1057.0 578.2,1060.1 579.5,1063.3 C580.9,1066.4 582.3,1069.6 583.8,1072.7 C585.2,1075.8 586.7,1078.9 588.3,1081.9 C589.8,1085.0 591.4,1088.0 593.1,1091.0 C594.8,1094.0 596.5,1097.0 598.3,1100.0 C600.1,1102.9 601.9,1105.8 603.8,1108.6 C605.8,1111.5 607.8,1114.3 609.8,1117.0 C611.9,1119.7 614.1,1122.4 616.3,1125.0 C618.5,1127.6 620.8,1130.2 623.2,1132.6 C625.6,1135.1 628.1,1137.5 630.7,1139.8 C633.2,1142.1 635.9,1144.3 638.6,1146.4 C641.3,1148.5 644.1,1150.5 646.9,1152.4 C649.8,1154.3 654.2,1156.9 655.7,1157.8"/>
<path d="M479.6,677.8 C480.1,679.4 481.6,684.3 482.6,687.5 C483.6,690.8 484.6,694.0 485.6,697.3 C486.6,700.5 487.6,703.8 488.6,707.0 C489.6,710.3 490.6,713.5 491.7,716.8 C492.7,720.0 493.7,723.3 494.7,726.5 C495.7,729.7 496.7,733.0 497.7,736.2 C498.8,739.5 499.8,742.7 500.8,746.0 C501.8,749.2 502.8,752.4 503.9,755.7 C504.9,758.9 505.9,762.2 506.9,765.4 C507.9,768.7 508.9,771.9 510.0,775.1 C511.0,778.4 512.0,781.6 513.0,784.9 C514.0,788.1 515.1,791.4 516.1,794.6 C517.1,797.9 518.1,801.1 519.1,804.3 C520.1,807.6 521.1,810.8 522.1,814.1 C523.1,817.3 524.2,820.6 525.2,823.8 C526.2,827.1 527.2,830.3 528.2,833.6 C529.2,836.8 530.2,840.1 531.2,843.3 C532.2,846.6 533.1,849.8 534.1,853.1 C535.1,856.3 536.1,859.6 537.1,862.8 C538.1,866.1 539.0,869.3 540.0,872.6 C541.0,875.9 542.0,879.1 542.9,882.4 C543.9,885.6 544.9,888.9 545.8,892.1 C546.8,895.4 547.7,898.7 548.7,901.9 C549.6,905.2 550.6,908.5 551.5,911.7 C552.4,915.0 553.4,918.3 554.3,921.5 C555.2,924.8 556.2,928.1 557.1,931.4 C558.0,934.6 558.9,937.9 559.8,941.2 C560.7,944.5 561.6,947.7 562.5,951.0 C563.4,954.3 564.3,957.6 565.2,960.8 C566.1,964.1 567.0,967.4 567.9,970.7 C568.7,974.0 569.6,977.3 570.5,980.5 C571.4,983.8 572.3,987.1 573.1,990.4 C574.0,993.7 574.9,997.0 575.8,1000.2 C576.6,1003.5 577.5,1006.8 578.4,1010.1 C579.3,1013.4 580.1,1016.7 581.0,1020.0 C581.9,1023.2 582.8,1026.5 583.6,1029.8 C584.5,1033.1 585.4,1036.4 586.3,1039.7 C587.1,1042.9 588.0,1046.2 588.9,1049.5 C589.8,1052.8 590.7,1056.1 591.6,1059.4 C592.5,1062.6 593.4,1065.9 594.3,1069.2 C595.2,1072.5 596.1,1075.7 597.0,1079.0 C597.9,1082.3 598.8,1085.6 599.7,1088.8 C600.6,1092.1 601.6,1095.4 602.5,1098.7 C603.4,1101.9 604.4,1105.2 605.3,1108.4 C606.3,1111.7 607.2,1115.0 608.2,1118.2 C609.2,1121.5 610.2,1124.7 611.2,1128.0 C612.2,1131.2 613.2,1134.5 614.2,1137.7 C615.2,1141.0 616.2,1144.2 617.3,1147.4 C618.3,1150.7 619.4,1153.9 620.5,1157.1 C621.6,1160.4 622.6,1163.6 623.7,1166.8 C624.9,1170.0 626.0,1173.2 627.1,1176.4 C628.2,1179.6 629.4,1182.8 630.6,1186.0 C631.8,1189.2 632.9,1192.4 634.2,1195.6 C635.4,1198.7 636.6,1201.9 637.8,1205.1 C639.1,1208.2 640.4,1211.4 641.7,1214.5 C642.9,1217.7 644.3,1220.8 645.6,1223.9 C646.9,1227.1 648.3,1230.2 649.7,1233.3 C651.0,1236.4 652.4,1239.5 653.9,1242.6 C655.3,1245.7 657.5,1250.3 658.2,1251.8"/>
<path d="M480.5,677.8 C480.8,679.5 481.7,684.5 482.4,687.9 C483.1,691.2 483.8,694.6 484.6,697.9 C485.3,701.2 486.1,704.6 487.0,707.9 C487.8,711.2 488.7,714.5 489.6,717.8 C490.5,721.1 491.4,724.4 492.4,727.7 C493.4,730.9 494.4,734.2 495.4,737.5 C496.4,740.7 497.5,744.0 498.6,747.2 C499.6,750.5 500.7,753.7 501.8,757.0 C502.9,760.2 504.1,763.4 505.2,766.7 C506.3,769.9 507.5,773.1 508.6,776.3 C509.8,779.5 511.0,782.7 512.1,786.0 C513.3,789.2 514.5,792.4 515.7,795.6 C516.8,798.8 518.0,802.0 519.2,805.2 C520.4,808.4 521.6,811.6 522.7,814.9 C523.9,818.1 525.1,821.3 526.2,824.5 C527.4,827.7 528.5,830.9 529.6,834.2 C530.8,837.4 531.9,840.6 533.0,843.9 C534.1,847.1 535.2,850.4 536.2,853.6 C537.3,856.9 538.3,860.1 539.3,863.4 C540.3,866.7 541.3,869.9 542.3,873.2 C543.2,876.5 544.2,879.8 545.1,883.1 C546.0,886.4 546.9,889.7 547.8,893.0 C548.7,896.3 549.5,899.6 550.4,902.9 C551.3,906.2 552.1,909.5 552.9,912.8 C553.8,916.1 554.6,919.5 555.5,922.8 C556.3,926.1 557.1,929.4 558.0,932.7 C558.8,936.0 559.6,939.4 560.5,942.7 C561.3,946.0 562.1,949.3 563.0,952.6 C563.9,955.9 564.7,959.2 565.6,962.5 C566.5,965.8 567.4,969.1 568.3,972.4 C569.2,975.7 570.1,979.0 571.1,982.3 C572.0,985.6 572.9,988.9 573.9,992.2 C574.8,995.5 575.7,998.8 576.7,1002.0 C577.6,1005.3 578.6,1008.6 579.5,1011.9 C580.5,1015.2 581.4,1018.5 582.4,1021.8 C583.3,1025.0 584.3,1028.3 585.2,1031.6 C586.1,1034.9 587.1,1038.2 588.0,1041.5 C588.9,1044.8 589.8,1048.1 590.7,1051.4 C591.7,1054.7 592.5,1058.0 593.4,1061.3 C594.3,1064.6 595.2,1067.9 596.0,1071.2 C596.9,1074.5 597.7,1077.8 598.5,1081.1 C599.4,1084.5 600.2,1087.8 600.9,1091.1 C601.7,1094.5 602.5,1097.8 603.2,1101.1 C603.9,1104.5 604.6,1107.8 605.3,1111.2 C606.0,1114.5 606.6,1117.9 607.3,1121.2 C607.9,1124.6 608.5,1128.0 609.0,1131.3 C609.6,1134.7 610.1,1138.1 610.6,1141.5 C611.1,1144.9 611.6,1148.2 612.1,1151.6 C612.5,1155.0 613.0,1158.4 613.4,1161.8 C613.8,1165.2 614.2,1168.6 614.6,1172.0 C615.0,1175.4 615.3,1178.8 615.7,1182.2 C616.1,1185.6 616.4,1189.0 616.8,1192.4 C617.1,1195.8 617.5,1199.2 617.8,1202.6 C618.2,1206.0 618.5,1209.4 618.9,1212.8 C619.2,1216.2 619.6,1219.6 620.0,1223.0 C620.4,1226.4 620.7,1229.8 621.1,1233.2 C621.5,1236.6 621.9,1240.0 622.4,1243.4 C622.8,1246.8 623.3,1250.2 623.8,1253.5 C624.4,1256.9 624.9,1260.3 625.6,1263.6 C626.2,1267.0 626.9,1270.4 627.6,1273.7 C628.4,1277.0 629.2,1280.3 630.2,1283.6 C631.1,1286.9 632.1,1290.2 633.2,1293.4 C634.3,1296.7 635.5,1299.9 636.8,1303.0 C638.1,1306.2 639.5,1309.3 640.9,1312.4 C642.4,1315.5 644.0,1318.5 645.6,1321.5 C647.3,1324.5 649.0,1327.5 650.9,1330.4 C652.7,1333.3 654.6,1336.1 656.6,1338.9 C658.6,1341.6 660.7,1344.3 662.9,1347.0 C665.1,1349.6 667.3,1352.2 669.7,1354.7 C672.0,1357.1 674.5,1359.6 677.0,1361.9 C679.5,1364.2 683.5,1367.4 684.8,1368.5"/>
<path d="M481.5,677.8 C481.8,679.5 482.7,684.5 483.4,687.8 C484.0,691.1 484.7,694.4 485.5,697.7 C486.2,701.0 487.0,704.3 487.8,707.5 C488.6,710.8 489.5,714.1 490.3,717.4 C491.2,720.6 492.1,723.9 493.1,727.1 C494.0,730.4 495.0,733.6 496.0,736.8 C497.0,740.1 498.0,743.3 499.0,746.5 C500.1,749.7 501.1,752.9 502.2,756.1 C503.3,759.3 504.4,762.5 505.5,765.7 C506.6,768.9 507.7,772.1 508.8,775.3 C510.0,778.5 511.1,781.6 512.2,784.8 C513.4,788.0 514.5,791.2 515.7,794.4 C516.8,797.5 518.0,800.7 519.1,803.9 C520.3,807.1 521.5,810.2 522.6,813.4 C523.7,816.6 524.9,819.8 526.0,823.0 C527.2,826.1 528.3,829.3 529.4,832.5 C530.5,835.7 531.6,838.9 532.7,842.1 C533.8,845.3 534.9,848.5 535.9,851.7 C537.0,854.9 538.0,858.1 539.0,861.4 C540.0,864.6 541.0,867.8 542.0,871.1 C542.9,874.3 543.9,877.5 544.8,880.8 C545.7,884.0 546.6,887.3 547.5,890.5 C548.4,893.8 549.3,897.1 550.2,900.3 C551.0,903.6 551.9,906.9 552.7,910.1 C553.6,913.4 554.4,916.7 555.3,920.0 C556.1,923.2 556.9,926.5 557.8,929.8 C558.6,933.0 559.5,936.3 560.3,939.6 C561.2,942.9 562.0,946.1 562.9,949.4 C563.7,952.7 564.6,955.9 565.5,959.2 C566.3,962.5 567.2,965.7 568.1,969.0 C569.0,972.2 570.0,975.5 570.9,978.7 C571.8,982.0 572.7,985.2 573.7,988.5 C574.6,991.7 575.5,995.0 576.5,998.2 C577.4,1001.5 578.3,1004.7 579.3,1008.0 C580.2,1011.2 581.1,1014.5 582.1,1017.7 C583.0,1020.9 583.9,1024.2 584.8,1027.5 C585.8,1030.7 586.7,1034.0 587.6,1037.2 C588.5,1040.5 589.4,1043.7 590.2,1047.0 C591.1,1050.3 592.0,1053.5 592.8,1056.8 C593.6,1060.1 594.5,1063.4 595.3,1066.6 C596.1,1069.9 596.9,1073.2 597.6,1076.5 C598.4,1079.8 599.1,1083.1 599.8,1086.4 C600.5,1089.7 601.2,1093.0 601.9,1096.3 C602.5,1099.6 603.1,1103.0 603.7,1106.3 C604.3,1109.6 604.9,1112.9 605.4,1116.3 C605.9,1119.6 606.4,1123.0 606.8,1126.3 C607.3,1129.7 607.7,1133.0 608.0,1136.4 C608.4,1139.7 608.7,1143.1 609.0,1146.5 C609.3,1149.8 609.6,1153.2 609.8,1156.6 C610.0,1159.9 610.2,1163.3 610.4,1166.7 C610.6,1170.1 610.7,1173.4 610.9,1176.8 C611.0,1180.2 611.1,1183.6 611.2,1186.9 C611.3,1190.3 611.4,1193.7 611.5,1197.1 C611.5,1200.5 611.6,1203.8 611.6,1207.2 C611.7,1210.6 611.7,1214.0 611.8,1217.3 C611.8,1220.7 611.9,1224.1 611.9,1227.5 C611.9,1230.9 612.0,1234.2 612.0,1237.6 C612.1,1241.0 612.1,1244.4 612.2,1247.7 C612.2,1251.1 612.3,1254.5 612.4,1257.9 C612.5,1261.3 612.6,1264.6 612.7,1268.0 C612.8,1271.4 613.0,1274.8 613.1,1278.1 C613.3,1281.5 613.5,1284.9 613.7,1288.3 C613.9,1291.6 614.1,1295.0 614.4,1298.4 C614.7,1301.7 615.0,1305.1 615.3,1308.5 C615.6,1311.8 616.0,1315.2 616.4,1318.5 C616.9,1321.9 617.3,1325.2 617.8,1328.6 C618.3,1331.9 618.9,1335.3 619.5,1338.6 C620.1,1341.9 620.7,1345.2 621.4,1348.5 C622.1,1351.8 622.9,1355.1 623.7,1358.4 C624.6,1361.7 625.4,1364.9 626.4,1368.2 C627.3,1371.4 628.3,1374.7 629.4,1377.9 C630.5,1381.1 631.6,1384.2 632.8,1387.4 C634.0,1390.6 635.3,1393.7 636.6,1396.8 C638.0,1399.9 639.4,1403.0 640.8,1406.0 C642.3,1409.1 643.8,1412.1 645.4,1415.1 C647.0,1418.0 648.6,1421.0 650.4,1423.9 C652.1,1426.8 653.8,1429.7 655.7,1432.5 C657.5,1435.4 659.4,1438.1 661.4,1440.9 C663.4,1443.6 665.4,1446.3 667.5,1449.0 C669.6,1451.7 671.7,1454.3 673.9,1456.8 C676.1,1459.4 678.4,1461.9 680.7,1464.4 C683.0,1466.9 685.3,1469.3 687.7,1471.7 C690.1,1474.0 692.6,1476.4 695.1,1478.7 C697.6,1480.9 700.1,1483.2 702.7,1485.4 C705.2,1487.6 709.2,1490.7 710.5,1491.8"/>
<path d="M236.5,683.0 C238.5,683.0 244.5,683.0 248.5,682.9 C252.5,682.8 256.5,682.6 260.5,682.4 C264.5,682.1 268.4,681.8 272.4,681.4 C276.4,681.1 280.4,680.6 284.3,680.2 C288.3,679.7 292.3,679.2 296.2,678.6 C300.2,678.0 304.1,677.4 308.1,676.7 C312.0,676.0 315.9,675.3 319.9,674.5 C323.8,673.8 327.7,673.0 331.6,672.1 C335.5,671.3 339.4,670.4 343.3,669.6 C347.2,668.7 353.1,667.3 355.0,666.8"/>
<path d="M538.3,1160.0 C539.8,1159.1 544.3,1156.5 547.1,1154.5 C549.9,1152.5 552.6,1150.3 555.1,1148.0 C557.7,1145.7 560.2,1143.3 562.5,1140.7 C564.8,1138.2 567.0,1135.5 569.1,1132.7 C571.1,1130.0 573.1,1127.1 574.9,1124.2 C576.7,1121.2 578.4,1118.2 580.0,1115.2 C581.6,1112.1 583.1,1109.0 584.5,1105.8 C585.9,1102.7 587.2,1099.5 588.4,1096.2 C589.6,1093.0 590.6,1089.7 591.7,1086.4 C592.7,1083.1 593.6,1079.8 594.4,1076.5 C595.3,1073.1 596.0,1069.7 596.7,1066.4 C597.4,1063.0 598.1,1059.6 598.6,1056.2 C599.2,1052.8 599.7,1049.4 600.2,1045.9 C600.6,1042.5 601.0,1039.1 601.4,1035.7 C601.8,1032.2 602.1,1028.8 602.4,1025.3 C602.7,1021.9 602.9,1018.5 603.2,1015.0 C603.4,1011.6 603.6,1008.1 603.8,1004.7 C604.0,1001.2 604.1,997.8 604.3,994.3 C604.4,990.9 604.6,987.4 604.7,984.0 C604.9,980.5 605.0,977.1 605.1,973.6 C605.3,970.2 605.4,966.7 605.6,963.3 C605.7,959.9 605.9,956.4 606.1,953.0 C606.2,949.5 606.4,946.1 606.6,942.6 C606.8,939.2 607.0,935.7 607.2,932.3 C607.5,928.8 607.7,925.4 607.9,921.9 C608.1,918.5 608.3,915.1 608.6,911.6 C608.8,908.2 609.0,904.7 609.2,901.3 C609.4,897.8 609.6,894.4 609.8,890.9 C610.0,887.5 610.2,884.0 610.4,880.6 C610.5,877.1 610.7,873.7 610.8,870.3 C611.0,866.8 611.1,863.4 611.2,859.9 C611.3,856.5 611.3,853.0 611.4,849.5 C611.5,846.1 611.5,842.6 611.6,839.2 C611.6,835.7 611.6,832.3 611.7,828.8 C611.7,825.4 611.7,821.9 611.7,818.5 C611.8,815.0 611.8,811.6 611.8,808.1 C611.9,804.7 611.9,801.2 612.0,797.8 C612.0,794.3 612.1,790.9 612.2,787.4 C612.3,784.0 612.4,780.5 612.5,777.1 C612.6,773.6 612.8,770.2 612.9,766.7 C613.1,763.3 613.3,759.8 613.5,756.4 C613.8,752.9 614.0,749.5 614.4,746.1 C614.7,742.6 615.0,739.2 615.4,735.8 C615.8,732.3 616.2,728.9 616.7,725.5 C617.2,722.1 617.7,718.7 618.3,715.3 C618.9,711.9 619.6,708.5 620.3,705.1 C621.0,701.7 621.8,698.3 622.7,695.0 C623.5,691.7 624.5,688.3 625.5,685.1 C626.6,681.8 627.8,678.5 629.1,675.3 C630.4,672.2 631.9,669.0 633.5,666.0 C635.2,663.0 637.0,660.0 639.0,657.2 C641.0,654.4 643.2,651.7 645.5,649.2 C647.9,646.7 650.5,644.4 653.2,642.2 C655.9,640.1 660.4,637.5 661.8,636.5"/>
<path d="M538.3,1160.0 C540.0,1160.1 545.2,1160.4 548.6,1160.3 C552.0,1160.2 555.5,1160.0 558.9,1159.5 C562.3,1159.1 565.7,1158.5 569.0,1157.6 C572.3,1156.8 575.6,1155.8 578.8,1154.6 C582.0,1153.4 585.2,1152.0 588.2,1150.3 C591.2,1148.7 594.2,1146.9 596.9,1144.8 C599.6,1142.7 602.2,1140.3 604.4,1137.8 C606.7,1135.2 608.7,1132.4 610.4,1129.4 C612.1,1126.4 613.4,1123.2 614.6,1120.0 C615.8,1116.8 616.7,1113.4 617.5,1110.1 C618.3,1106.8 618.9,1103.4 619.5,1100.0 C620.1,1096.6 620.6,1093.2 621.0,1089.8 C621.5,1086.4 621.9,1083.0 622.2,1079.6 C622.5,1076.1 622.8,1072.7 623.1,1069.3 C623.3,1065.9 623.5,1062.4 623.6,1059.0 C623.8,1055.6 623.9,1052.1 623.9,1048.7 C624.0,1045.3 624.0,1041.8 624.0,1038.4 C623.9,1035.0 623.9,1031.5 623.8,1028.1 C623.7,1024.7 623.6,1021.2 623.4,1017.8 C623.3,1014.4 623.1,1010.9 622.9,1007.5 C622.8,1004.1 622.5,1000.6 622.3,997.2 C622.1,993.8 621.8,990.3 621.6,986.9 C621.3,983.5 621.1,980.1 620.8,976.6 C620.5,973.2 620.3,969.8 620.0,966.4 C619.7,962.9 619.4,959.5 619.1,956.1 C618.9,952.7 618.6,949.2 618.3,945.8 C618.0,942.4 617.8,939.0 617.5,935.5 C617.3,932.1 617.0,928.7 616.8,925.3 C616.5,921.8 616.3,918.4 616.1,915.0 C615.9,911.6 615.6,908.1 615.5,904.7 C615.3,901.3 615.1,897.8 614.9,894.4 C614.8,891.0 614.6,887.5 614.5,884.1 C614.4,880.7 614.3,877.2 614.2,873.8 C614.2,870.4 614.1,866.9 614.1,863.5 C614.1,860.1 614.1,856.6 614.1,853.2 C614.1,849.8 614.2,846.3 614.3,842.9 C614.4,839.4 614.5,836.0 614.6,832.6 C614.8,829.1 615.0,825.7 615.2,822.3 C615.4,818.9 615.7,815.4 616.0,812.0 C616.3,808.6 616.6,805.2 617.0,801.8 C617.4,798.3 617.7,794.9 618.3,791.5 C618.8,788.1 619.4,784.7 620.3,781.4 C621.1,778.1 622.1,774.8 623.5,771.6 C624.8,768.5 626.5,765.4 628.4,762.6 C630.3,759.7 632.4,757.0 634.8,754.6 C637.2,752.1 639.9,749.9 642.7,747.9 C645.5,746.0 648.6,744.4 651.8,743.0 C654.9,741.7 658.3,740.7 661.6,740.1 C665.0,739.4 668.4,739.2 671.9,739.2 C675.3,739.2 680.4,740.0 682.1,740.2"/>
<path d="M538.3,1160.0 C539.9,1159.4 544.9,1157.7 548.1,1156.3 C551.3,1154.8 554.4,1153.1 557.3,1151.2 C560.2,1149.3 563.1,1147.2 565.8,1145.0 C568.5,1142.8 571.1,1140.4 573.5,1137.9 C575.9,1135.4 578.2,1132.7 580.3,1129.9 C582.4,1127.1 584.3,1124.1 586.0,1121.1 C587.8,1118.1 589.3,1114.9 590.6,1111.7 C592.0,1108.5 593.2,1105.1 594.2,1101.8 C595.2,1098.4 596.0,1095.0 596.7,1091.6 C597.5,1088.2 598.0,1084.7 598.5,1081.2 C599.0,1077.8 599.3,1074.3 599.6,1070.8 C599.8,1067.3 600.0,1063.8 600.1,1060.3 C600.2,1056.8 600.2,1053.3 600.2,1049.8 C600.2,1046.3 600.1,1042.8 600.0,1039.3 C599.9,1035.8 599.7,1032.3 599.5,1028.8 C599.3,1025.3 599.1,1021.8 598.8,1018.3 C598.6,1014.8 598.3,1011.4 598.0,1007.9 C597.7,1004.4 597.4,1000.9 597.1,997.4 C596.8,993.9 596.4,990.4 596.1,986.9 C595.8,983.5 595.5,980.0 595.2,976.5 C594.9,973.0 594.6,969.5 594.4,966.0 C594.1,962.5 593.9,959.0 593.7,955.5 C593.5,952.0 593.3,948.5 593.2,945.0 C593.1,941.5 593.1,938.0 593.1,934.5 C593.1,931.0 593.2,927.5 593.3,924.0 C593.4,920.5 593.6,917.0 593.9,913.5 C594.2,910.1 594.6,906.6 595.1,903.1 C595.6,899.6 596.1,896.2 596.8,892.7 C597.5,889.3 598.2,885.9 599.2,882.5 C600.2,879.2 601.3,875.8 602.7,872.6 C604.1,869.4 605.7,866.3 607.7,863.4 C609.6,860.5 611.9,857.7 614.4,855.4 C617.0,853.0 620.0,851.0 623.0,849.4 C626.1,847.9 629.6,846.8 633.0,846.1 C636.4,845.3 641.7,845.3 643.4,845.1"/>
<path d="M538.3,1160.0 C540.0,1159.9 545.3,1159.8 548.8,1159.2 C552.3,1158.6 555.7,1157.8 559.0,1156.6 C562.3,1155.5 565.6,1154.1 568.7,1152.4 C571.8,1150.8 574.7,1148.8 577.5,1146.7 C580.3,1144.6 582.9,1142.1 585.2,1139.6 C587.6,1137.0 589.8,1134.1 591.6,1131.2 C593.5,1128.2 595.1,1125.0 596.5,1121.8 C597.9,1118.6 599.0,1115.3 600.0,1111.9 C601.0,1108.5 601.8,1105.1 602.6,1101.7 C603.4,1098.3 604.1,1094.8 604.8,1091.4 C605.5,1087.9 606.2,1084.5 606.9,1081.0 C607.7,1077.6 608.4,1074.2 609.3,1070.8 C610.2,1067.4 611.2,1064.0 612.3,1060.7 C613.4,1057.3 614.6,1054.0 615.9,1050.8 C617.2,1047.5 618.6,1044.3 620.1,1041.1 C621.6,1037.9 623.1,1034.7 624.8,1031.6 C626.4,1028.5 628.2,1025.5 630.0,1022.5 C631.8,1019.5 633.6,1016.5 635.6,1013.6 C637.5,1010.6 639.5,1007.7 641.6,1004.9 C643.7,1002.0 645.8,999.2 647.9,996.5 C650.1,993.7 652.3,991.0 654.6,988.3 C656.8,985.6 659.2,982.9 661.5,980.3 C663.8,977.7 666.2,975.1 668.6,972.5 C671.0,970.0 673.4,967.4 676.0,965.0 C678.6,962.6 681.2,960.2 684.0,958.2 C686.9,956.2 690.0,954.3 693.2,953.1 C696.5,951.9 701.8,951.3 703.5,951.0"/>
<path d="M538.3,1160.0 C540.1,1160.0 545.4,1160.2 549.0,1159.9 C552.5,1159.6 556.1,1159.0 559.5,1158.0 C562.9,1157.1 566.3,1155.9 569.5,1154.4 C572.7,1152.9 575.8,1151.1 578.8,1149.1 C581.7,1147.1 584.5,1144.8 587.2,1142.5 C589.8,1140.1 592.3,1137.5 594.7,1134.9 C597.1,1132.3 599.4,1129.6 601.6,1126.8 C603.9,1124.0 606.0,1121.2 608.1,1118.3 C610.3,1115.5 612.3,1112.5 614.4,1109.7 C616.5,1106.8 618.5,1103.8 620.6,1101.0 C622.7,1098.1 624.8,1095.2 627.0,1092.4 C629.2,1089.6 631.4,1086.8 633.7,1084.1 C636.0,1081.4 638.4,1078.8 641.0,1076.3 C643.6,1073.8 646.2,1071.4 649.1,1069.3 C651.9,1067.1 654.9,1065.1 658.0,1063.4 C661.1,1061.7 664.4,1060.3 667.8,1059.1 C671.1,1058.0 674.6,1057.2 678.1,1056.7 C681.7,1056.2 687.0,1056.1 688.8,1056.0"/>
<path d="M538.3,1160.0 C555.2,1160.0 620.4,1160.0 640.0,1160.0 C659.6,1160.0 653.1,1160.0 655.7,1160.0"/>
<path d="M538.3,1160.0 C540.1,1160.2 545.5,1160.5 549.0,1161.2 C552.4,1162.0 555.9,1163.2 559.1,1164.8 C562.3,1166.3 565.4,1168.3 568.2,1170.6 C570.9,1172.8 573.5,1175.4 575.8,1178.1 C578.1,1180.8 580.2,1183.8 582.2,1186.8 C584.1,1189.8 585.9,1192.9 587.6,1196.0 C589.4,1199.2 590.9,1202.4 592.6,1205.6 C594.2,1208.8 595.7,1212.1 597.3,1215.3 C598.9,1218.5 600.4,1221.7 602.1,1224.9 C603.8,1228.0 605.6,1231.2 607.5,1234.2 C609.4,1237.2 611.4,1240.3 613.6,1243.0 C615.9,1245.8 618.3,1248.5 621.0,1250.9 C623.7,1253.2 626.6,1255.4 629.7,1257.1 C632.9,1258.8 636.3,1260.1 639.7,1261.1 C643.1,1262.1 648.5,1262.5 650.3,1262.8"/>
<path d="M538.3,1160.0 C540.0,1160.4 545.1,1161.2 548.5,1162.2 C551.8,1163.1 555.1,1164.2 558.3,1165.5 C561.5,1166.8 564.7,1168.4 567.7,1170.1 C570.7,1171.9 573.6,1173.9 576.3,1176.0 C579.0,1178.2 581.5,1180.6 583.9,1183.1 C586.3,1185.6 588.6,1188.3 590.6,1191.0 C592.7,1193.8 594.6,1196.7 596.4,1199.7 C598.2,1202.7 599.8,1205.8 601.3,1208.9 C602.8,1212.1 604.2,1215.3 605.4,1218.5 C606.7,1221.7 607.9,1225.0 609.0,1228.3 C610.1,1231.6 611.2,1234.9 612.1,1238.2 C613.1,1241.5 614.0,1244.9 614.9,1248.2 C615.8,1251.6 616.7,1255.0 617.5,1258.3 C618.4,1261.7 619.2,1265.1 620.0,1268.5 C620.9,1271.8 621.7,1275.2 622.6,1278.6 C623.4,1281.9 624.3,1285.3 625.2,1288.7 C626.1,1292.0 627.0,1295.4 628.0,1298.7 C629.1,1302.0 630.1,1305.3 631.3,1308.6 C632.4,1311.8 633.7,1315.1 635.0,1318.3 C636.4,1321.5 637.8,1324.7 639.5,1327.7 C641.1,1330.8 642.8,1333.8 644.7,1336.7 C646.6,1339.6 648.7,1342.4 650.9,1345.1 C653.1,1347.7 655.6,1350.3 658.1,1352.6 C660.7,1355.0 663.4,1357.1 666.3,1359.1 C669.1,1361.1 672.1,1362.8 675.2,1364.4 C678.3,1366.0 683.2,1367.8 684.8,1368.5"/>
<path d="M538.3,1160.0 C540.0,1160.3 545.2,1160.9 548.6,1161.7 C551.9,1162.6 555.2,1163.7 558.4,1165.2 C561.5,1166.6 564.6,1168.3 567.4,1170.3 C570.3,1172.2 573.0,1174.5 575.5,1176.9 C578.0,1179.3 580.3,1181.9 582.4,1184.6 C584.5,1187.4 586.5,1190.3 588.2,1193.3 C590.0,1196.2 591.6,1199.3 593.1,1202.5 C594.5,1205.6 595.8,1208.9 597.0,1212.1 C598.2,1215.4 599.2,1218.7 600.1,1222.1 C601.0,1225.4 601.8,1228.8 602.5,1232.2 C603.2,1235.6 603.7,1239.0 604.2,1242.5 C604.7,1245.9 605.0,1249.4 605.3,1252.8 C605.6,1256.3 605.8,1259.8 606.0,1263.2 C606.2,1266.7 606.2,1270.2 606.3,1273.6 C606.3,1277.1 606.3,1280.6 606.3,1284.0 C606.2,1287.5 606.1,1291.0 606.0,1294.5 C605.9,1297.9 605.8,1301.4 605.6,1304.9 C605.5,1308.3 605.3,1311.8 605.2,1315.3 C605.0,1318.7 604.8,1322.2 604.7,1325.7 C604.5,1329.1 604.3,1332.6 604.2,1336.1 C604.1,1339.6 603.9,1343.0 603.9,1346.5 C603.8,1350.0 603.7,1353.4 603.7,1356.9 C603.7,1360.4 603.7,1363.9 603.8,1367.3 C603.9,1370.8 604.0,1374.3 604.2,1377.7 C604.4,1381.2 604.6,1384.7 605.0,1388.1 C605.3,1391.6 605.7,1395.0 606.1,1398.5 C606.6,1401.9 607.1,1405.3 607.7,1408.8 C608.4,1412.2 609.1,1415.6 609.9,1418.9 C610.7,1422.3 611.6,1425.7 612.6,1429.0 C613.6,1432.3 614.7,1435.6 615.9,1438.9 C617.1,1442.1 618.4,1445.4 619.8,1448.5 C621.2,1451.7 622.8,1454.8 624.4,1457.9 C626.0,1460.9 627.8,1464.0 629.6,1466.9 C631.5,1469.8 633.4,1472.7 635.5,1475.5 C637.5,1478.3 639.7,1481.0 641.9,1483.7 C644.1,1486.3 647.7,1490.1 648.9,1491.4"/>
<path d="M538.3,1160.0 C539.7,1160.9 544.0,1163.7 546.7,1165.7 C549.4,1167.7 552.0,1169.9 554.5,1172.1 C557.0,1174.4 559.4,1176.8 561.7,1179.2 C564.0,1181.7 566.1,1184.3 568.2,1186.9 C570.3,1189.6 572.2,1192.3 574.1,1195.1 C575.9,1198.0 577.7,1200.9 579.3,1203.8 C580.9,1206.8 582.4,1209.8 583.8,1212.9 C585.2,1215.9 586.5,1219.1 587.7,1222.2 C588.9,1225.4 590.0,1228.6 591.0,1231.8 C591.9,1235.0 592.8,1238.3 593.6,1241.5 C594.4,1244.8 595.1,1248.1 595.8,1251.4 C596.4,1254.7 596.9,1258.1 597.4,1261.4 C597.9,1264.7 598.2,1268.1 598.5,1271.4 C598.9,1274.8 599.1,1278.2 599.3,1281.5 C599.5,1284.9 599.6,1288.3 599.7,1291.6 C599.8,1295.0 599.9,1298.4 600.0,1301.7 C600.0,1305.1 600.1,1308.5 600.2,1311.9 C600.2,1315.2 600.3,1318.6 600.4,1322.0 C600.5,1325.3 600.6,1328.7 600.8,1332.1 C601.0,1335.4 601.2,1338.8 601.5,1342.2 C601.8,1345.5 602.1,1348.9 602.6,1352.2 C603.1,1355.6 603.6,1358.9 604.3,1362.2 C605.0,1365.5 605.8,1368.8 606.7,1372.0 C607.6,1375.2 608.7,1378.5 609.9,1381.6 C611.2,1384.7 612.5,1387.8 614.1,1390.8 C615.7,1393.8 617.4,1396.7 619.3,1399.5 C621.1,1402.3 623.2,1405.0 625.4,1407.5 C627.6,1410.1 630.0,1412.5 632.5,1414.7 C635.0,1417.0 637.7,1419.0 640.5,1420.9 C643.3,1422.7 646.3,1424.4 649.3,1425.8 C652.3,1427.3 655.5,1428.6 658.7,1429.7 C661.8,1430.8 665.1,1431.8 668.3,1432.6 C671.6,1433.4 674.9,1434.0 678.3,1434.5 C681.6,1435.1 684.9,1435.5 688.3,1435.8 C691.7,1436.1 695.0,1436.3 698.4,1436.4 C701.8,1436.5 705.1,1436.6 708.5,1436.6 C711.9,1436.6 715.3,1436.5 718.6,1436.5 C722.0,1436.4 725.4,1436.3 728.7,1436.2 C732.1,1436.1 735.5,1436.0 738.9,1435.9 C742.2,1435.9 745.6,1435.8 749.0,1435.8 C752.3,1435.7 755.7,1435.7 759.1,1435.7 C762.4,1435.7 765.8,1435.7 769.2,1435.7 C772.6,1435.7 775.9,1435.7 779.3,1435.7 C782.7,1435.8 786.0,1435.8 789.4,1435.8 C792.8,1435.9 796.2,1435.9 799.5,1436.0 C802.9,1436.0 806.3,1436.1 809.6,1436.1 C813.0,1436.1 816.4,1436.2 819.8,1436.2 C823.1,1436.2 826.5,1436.3 829.9,1436.3 C833.2,1436.3 836.6,1436.3 840.0,1436.3 C843.4,1436.3 846.7,1436.3 850.1,1436.2 C853.5,1436.2 856.8,1436.2 860.2,1436.1 C863.6,1436.0 867.0,1436.0 870.3,1435.9 C873.7,1435.8 877.1,1435.6 880.4,1435.5 C883.8,1435.4 887.2,1435.2 890.5,1435.0 C893.9,1434.9 897.3,1434.7 900.6,1434.4 C904.0,1434.2 907.4,1434.0 910.7,1433.6 C914.1,1433.3 917.4,1432.9 920.8,1432.4 C924.1,1431.9 927.4,1431.3 930.7,1430.4 C933.9,1429.6 937.2,1428.6 940.3,1427.3 C943.4,1425.9 946.4,1424.4 949.2,1422.5 C951.9,1420.6 954.5,1418.3 956.8,1415.9 C959.1,1413.4 961.0,1410.6 962.8,1407.7 C964.5,1404.9 965.9,1401.8 967.2,1398.7 C968.5,1395.5 969.5,1392.3 970.4,1389.1 C971.4,1385.8 972.2,1382.5 972.9,1379.3 C973.6,1376.0 974.2,1372.6 974.8,1369.3 C975.4,1366.0 976.0,1362.7 976.5,1359.4 C977.0,1356.0 977.5,1352.7 977.9,1349.3 C978.4,1346.0 978.8,1342.7 979.2,1339.3 C979.6,1336.0 979.9,1332.6 980.3,1329.3 C980.6,1325.9 980.9,1322.5 981.3,1319.2 C981.6,1315.8 981.9,1312.5 982.2,1309.1 C982.5,1305.8 982.8,1302.4 983.1,1299.0 C983.4,1295.7 983.7,1292.3 983.9,1289.0 C984.2,1285.6 984.5,1282.2 984.8,1278.9 C985.1,1275.5 985.3,1272.2 985.6,1268.8 C985.9,1265.4 986.1,1262.1 986.4,1258.7 C986.6,1255.4 986.9,1252.0 987.1,1248.6 C987.4,1245.3 987.6,1241.9 987.9,1238.5 C988.1,1235.2 988.3,1231.8 988.5,1228.5 C988.8,1225.1 989.0,1221.7 989.2,1218.4 C989.4,1215.0 989.6,1211.6 989.8,1208.3 C990.0,1204.9 990.2,1201.5 990.4,1198.2 C990.6,1194.8 990.8,1191.4 991.0,1188.1 C991.2,1184.7 991.4,1181.3 991.5,1178.0 C991.7,1174.6 991.9,1171.2 992.0,1167.9 C992.2,1164.5 992.3,1161.1 992.5,1157.8 C992.6,1154.4 992.8,1151.0 992.9,1147.7 C993.1,1144.3 993.2,1140.9 993.3,1137.6 C993.4,1134.2 993.5,1130.8 993.6,1127.4 C993.8,1124.1 993.9,1120.7 994.0,1117.3 C994.1,1114.0 994.1,1110.6 994.2,1107.2 C994.3,1103.9 994.4,1100.5 994.5,1097.1 C994.5,1093.7 994.6,1090.4 994.6,1087.0 C994.7,1083.6 994.7,1080.3 994.8,1076.9 C994.8,1073.5 994.9,1070.1 994.9,1066.8 C994.9,1063.4 994.9,1060.0 994.9,1056.7 C994.9,1053.3 994.9,1049.9 994.9,1046.5 C994.9,1043.2 994.9,1039.8 994.9,1036.4 C994.9,1033.1 994.9,1029.7 994.8,1026.3 C994.8,1022.9 994.7,1019.6 994.7,1016.2 C994.6,1012.8 994.6,1009.5 994.5,1006.1 C994.5,1002.7 994.4,999.4 994.3,996.0 C994.2,992.6 994.1,989.2 994.0,985.9 C993.9,982.5 993.8,979.1 993.7,975.8 C993.6,972.4 993.5,969.0 993.4,965.7 C993.2,962.3 993.1,958.9 993.0,955.5 C992.9,952.2 992.8,948.8 992.6,945.4 C992.5,942.1 992.4,938.7 992.3,935.3 C992.2,932.0 992.1,928.6 992.0,925.2 C991.8,921.8 991.7,918.5 991.6,915.1 C991.6,911.7 991.5,908.4 991.4,905.0 C991.3,901.6 991.2,898.3 991.2,894.9 C991.1,891.5 991.1,888.1 991.1,884.8 C991.0,881.4 991.0,878.0 991.0,874.7 C991.0,871.3 991.0,867.9 991.1,864.5 C991.1,861.2 991.1,857.8 991.2,854.4 C991.3,851.1 991.4,847.7 991.5,844.3 C991.6,841.0 991.7,837.6 991.9,834.2 C992.0,830.8 992.2,827.5 992.4,824.1 C992.6,820.8 992.9,817.4 993.1,814.0 C993.4,810.7 993.7,807.3 994.0,804.0 C994.3,800.6 994.7,797.2 995.1,793.9 C995.4,790.5 995.9,787.2 996.3,783.9 C996.8,780.5 997.3,777.2 997.8,773.8 C998.3,770.5 998.8,767.2 999.3,763.8 C999.8,760.5 1000.3,757.2 1000.7,753.8 C1001.2,750.5 1001.6,747.1 1001.9,743.8 C1002.2,740.4 1002.4,737.1 1002.6,733.7 C1002.8,730.3 1002.9,727.0 1002.9,723.6 C1003.0,720.2 1003.0,716.9 1002.9,713.5 C1002.8,710.1 1002.7,706.7 1002.5,703.4 C1002.4,700.0 1002.1,696.6 1001.9,693.3 C1001.6,689.9 1001.3,686.6 1001.0,683.2 C1000.7,679.8 1000.3,676.5 999.9,673.1 C999.5,669.8 999.1,666.5 998.7,663.1 C998.3,659.8 997.8,656.4 997.3,653.1 C996.9,649.7 996.4,646.4 995.9,643.1 C995.4,639.7 994.9,636.4 994.4,633.1 C993.9,629.7 993.3,626.4 992.8,623.1 C992.3,619.8 991.8,616.4 991.3,613.1 C990.8,609.8 990.3,606.4 989.8,603.1 C989.3,599.7 988.8,596.4 988.3,593.1 C987.9,589.7 987.4,586.4 987.0,583.1 C986.6,579.7 986.1,576.4 985.8,573.0 C985.4,569.7 985.0,566.3 984.7,563.0 C984.4,559.6 984.1,556.2 983.8,552.9 C983.6,549.5 983.4,546.1 983.2,542.8 C983.1,539.4 983.0,536.0 982.9,532.7 C982.9,529.3 982.9,525.9 983.0,522.6 C983.1,519.2 983.2,515.8 983.5,512.5 C983.7,509.1 984.1,505.7 984.5,502.4 C984.9,499.0 985.4,495.7 986.1,492.4 C986.7,489.1 987.5,485.8 988.3,482.5 C989.2,479.3 990.2,476.1 991.3,472.9 C992.5,469.7 993.7,466.6 995.2,463.5 C996.6,460.5 998.1,457.5 999.9,454.6 C1001.6,451.7 1003.4,448.8 1005.5,446.2 C1007.5,443.5 1009.8,440.9 1012.2,438.6 C1014.7,436.3 1017.3,434.2 1020.2,432.4 C1023.0,430.7 1026.1,429.2 1029.3,428.1 C1032.5,427.1 1035.9,426.4 1039.2,426.2 C1042.5,425.9 1047.6,426.4 1049.3,426.5"/>
<path d="M538.3,1160.0 C540.0,1160.3 545.0,1161.0 548.2,1161.9 C551.4,1162.8 554.7,1163.9 557.7,1165.3 C560.7,1166.7 563.7,1168.4 566.4,1170.3 C569.2,1172.2 571.8,1174.4 574.2,1176.7 C576.6,1179.1 578.8,1181.7 580.7,1184.3 C582.7,1187.0 584.5,1189.9 586.1,1192.9 C587.7,1195.8 589.2,1198.9 590.4,1202.0 C591.7,1205.1 592.8,1208.3 593.8,1211.5 C594.8,1214.7 595.7,1218.0 596.4,1221.2 C597.2,1224.5 597.8,1227.8 598.4,1231.1 C599.0,1234.4 599.4,1237.8 599.8,1241.1 C600.2,1244.4 600.5,1247.8 600.7,1251.1 C601.0,1254.5 601.1,1257.9 601.3,1261.2 C601.4,1264.6 601.4,1267.9 601.5,1271.3 C601.5,1274.7 601.5,1278.0 601.4,1281.4 C601.4,1284.8 601.3,1288.1 601.2,1291.5 C601.1,1294.8 601.0,1298.2 600.9,1301.6 C600.8,1304.9 600.7,1308.3 600.5,1311.6 C600.4,1315.0 600.3,1318.4 600.2,1321.7 C600.1,1325.1 600.0,1328.4 600.0,1331.8 C599.9,1335.2 599.9,1338.5 599.9,1341.9 C600.0,1345.2 600.0,1348.6 600.1,1352.0 C600.2,1355.3 600.4,1358.7 600.6,1362.0 C600.9,1365.4 601.2,1368.7 601.6,1372.1 C602.0,1375.4 602.4,1378.8 603.0,1382.1 C603.6,1385.4 604.2,1388.7 605.0,1391.9 C605.8,1395.2 606.7,1398.5 607.7,1401.7 C608.8,1404.9 609.9,1408.0 611.2,1411.1 C612.5,1414.2 613.9,1417.3 615.4,1420.3 C617.0,1423.3 618.7,1426.2 620.5,1429.0 C622.3,1431.8 624.3,1434.6 626.4,1437.2 C628.5,1439.8 630.8,1442.3 633.3,1444.6 C635.7,1446.9 638.3,1449.0 641.1,1450.9 C643.8,1452.9 646.7,1454.6 649.6,1456.3 C652.6,1457.9 655.6,1459.3 658.7,1460.6 C661.8,1462.0 664.9,1463.2 668.1,1464.3 C671.3,1465.4 674.5,1466.4 677.7,1467.3 C680.9,1468.3 684.2,1469.1 687.5,1469.9 C690.7,1470.8 694.0,1471.5 697.3,1472.2 C700.6,1472.9 703.9,1473.5 707.2,1474.1 C710.5,1474.7 713.8,1475.2 717.2,1475.7 C720.5,1476.2 723.8,1476.6 727.1,1477.0 C730.5,1477.4 733.8,1477.8 737.2,1478.1 C740.5,1478.5 743.9,1478.7 747.2,1479.0 C750.6,1479.3 753.9,1479.5 757.3,1479.7 C760.6,1480.0 764.0,1480.1 767.4,1480.3 C770.7,1480.5 774.1,1480.6 777.4,1480.8 C780.8,1480.9 784.1,1481.0 787.5,1481.1 C790.9,1481.2 794.2,1481.2 797.6,1481.3 C801.0,1481.3 804.3,1481.3 807.7,1481.3 C811.0,1481.3 814.4,1481.3 817.8,1481.3 C821.1,1481.2 824.5,1481.2 827.8,1481.1 C831.2,1481.0 834.6,1480.9 837.9,1480.8 C841.3,1480.7 844.6,1480.6 848.0,1480.4 C851.4,1480.2 854.7,1480.1 858.1,1479.9 C861.4,1479.7 864.8,1479.5 868.1,1479.2 C871.5,1478.9 874.8,1478.6 878.2,1478.3 C881.5,1477.9 884.9,1477.5 888.2,1477.0 C891.5,1476.6 894.8,1476.0 898.1,1475.4 C901.5,1474.8 904.7,1474.1 908.0,1473.3 C911.3,1472.5 914.5,1471.6 917.7,1470.6 C920.9,1469.6 924.1,1468.5 927.3,1467.3 C930.4,1466.1 933.5,1464.7 936.5,1463.3 C939.5,1461.9 942.5,1460.3 945.5,1458.7 C948.4,1457.0 951.3,1455.3 954.1,1453.4 C956.9,1451.6 959.6,1449.6 962.3,1447.6 C965.0,1445.6 967.6,1443.5 970.2,1441.3 C972.7,1439.1 975.2,1436.8 977.6,1434.5 C980.0,1432.1 982.4,1429.7 984.6,1427.2 C986.9,1424.8 989.1,1422.2 991.2,1419.6 C993.3,1417.0 995.3,1414.3 997.3,1411.5 C999.2,1408.8 1001.1,1406.0 1002.9,1403.2 C1004.7,1400.3 1006.4,1397.4 1008.0,1394.5 C1009.6,1391.5 1011.1,1388.5 1012.6,1385.5 C1014.0,1382.4 1015.3,1379.3 1016.6,1376.2 C1017.8,1373.1 1019.0,1369.9 1020.1,1366.8 C1021.1,1363.6 1022.1,1360.3 1023.0,1357.1 C1023.9,1353.9 1024.7,1350.6 1025.5,1347.3 C1026.2,1344.1 1026.9,1340.8 1027.5,1337.5 C1028.1,1334.1 1028.7,1330.8 1029.2,1327.5 C1029.7,1324.2 1030.1,1320.8 1030.5,1317.5 C1030.9,1314.2 1031.3,1310.8 1031.6,1307.5 C1031.9,1304.1 1032.2,1300.8 1032.5,1297.4 C1032.8,1294.1 1033.0,1290.7 1033.2,1287.4 C1033.4,1284.0 1033.6,1280.7 1033.7,1277.3 C1033.9,1273.9 1034.0,1270.6 1034.1,1267.2 C1034.2,1263.9 1034.3,1260.5 1034.4,1257.1 C1034.4,1253.8 1034.5,1250.4 1034.5,1247.1 C1034.5,1243.7 1034.5,1240.3 1034.5,1237.0 C1034.4,1233.6 1034.4,1230.2 1034.3,1226.9 C1034.2,1223.5 1034.1,1220.2 1033.9,1216.8 C1033.8,1213.4 1033.7,1210.1 1033.5,1206.7 C1033.3,1203.4 1033.1,1200.0 1032.9,1196.7 C1032.7,1193.3 1032.4,1190.0 1032.1,1186.6 C1031.9,1183.3 1031.6,1179.9 1031.3,1176.6 C1031.0,1173.2 1030.6,1169.9 1030.3,1166.5 C1029.9,1163.2 1029.5,1159.8 1029.1,1156.5 C1028.7,1153.2 1028.3,1149.8 1027.9,1146.5 C1027.4,1143.2 1026.9,1139.8 1026.4,1136.5 C1026.0,1133.2 1025.5,1129.9 1024.9,1126.5 C1024.4,1123.2 1023.8,1119.9 1023.3,1116.6 C1022.7,1113.3 1022.1,1110.0 1021.5,1106.6 C1020.9,1103.3 1020.3,1100.0 1019.7,1096.7 C1019.1,1093.4 1018.5,1090.1 1017.8,1086.8 C1017.2,1083.5 1016.5,1080.2 1015.8,1076.9 C1015.2,1073.6 1014.5,1070.3 1013.8,1067.1 C1013.1,1063.8 1012.4,1060.5 1011.8,1057.2 C1011.1,1053.9 1010.4,1050.6 1009.7,1047.3 C1009.0,1044.0 1008.3,1040.7 1007.6,1037.5 C1006.9,1034.2 1006.1,1030.9 1005.4,1027.6 C1004.7,1024.3 1004.0,1021.0 1003.3,1017.7 C1002.6,1014.4 1001.9,1011.1 1001.2,1007.9 C1000.5,1004.6 999.9,1001.3 999.2,998.0 C998.5,994.7 997.8,991.4 997.2,988.1 C996.5,984.8 995.8,981.5 995.2,978.2 C994.5,974.9 993.9,971.6 993.3,968.3 C992.6,965.0 992.0,961.7 991.4,958.4 C990.9,955.1 990.3,951.8 989.8,948.4 C989.3,945.1 988.8,941.8 988.3,938.5 C987.9,935.1 987.5,931.8 987.2,928.4 C986.8,925.1 986.6,921.7 986.4,918.4 C986.2,915.0 986.1,911.7 986.0,908.3 C986.0,904.9 986.1,901.6 986.3,898.2 C986.4,894.9 986.7,891.5 987.1,888.2 C987.5,884.8 988.0,881.5 988.7,878.2 C989.4,874.9 990.1,871.7 991.1,868.4 C992.0,865.2 993.1,862.0 994.4,858.9 C995.6,855.8 997.0,852.7 998.6,849.7 C1000.1,846.8 1001.8,843.8 1003.6,841.0 C1005.5,838.2 1007.4,835.4 1009.5,832.8 C1011.6,830.2 1013.8,827.6 1016.2,825.2 C1018.5,822.8 1021.0,820.5 1023.6,818.4 C1026.2,816.3 1028.9,814.3 1031.7,812.5 C1034.5,810.7 1037.5,809.0 1040.5,807.6 C1043.6,806.1 1046.7,804.9 1049.9,803.9 C1053.1,802.9 1056.4,802.1 1059.7,801.6 C1063.0,801.1 1066.4,800.9 1069.8,800.8 C1073.1,800.8 1076.5,801.1 1079.8,801.5 C1083.2,802.0 1088.1,803.3 1089.7,803.6"/>
<path d="M894.9,1054.3 C896.7,1054.4 902.0,1055.0 905.5,1054.9 C909.0,1054.8 912.5,1054.4 916.0,1053.8 C919.5,1053.1 922.9,1052.1 926.2,1051.0 C929.5,1049.8 932.8,1048.3 935.9,1046.6 C939.0,1045.0 942.0,1043.1 944.9,1041.0 C947.8,1039.0 950.5,1036.8 953.2,1034.4 C955.8,1032.1 958.4,1029.6 960.8,1027.0 C963.2,1024.4 965.5,1021.7 967.6,1018.9 C969.8,1016.2 971.8,1013.3 973.8,1010.3 C975.7,1007.3 977.5,1004.3 979.2,1001.2 C980.9,998.1 982.5,994.9 983.9,991.7 C985.4,988.5 986.8,985.3 988.1,982.0 C989.4,978.7 990.6,975.3 991.7,972.0 C992.9,968.7 993.9,965.3 994.9,961.9 C995.9,958.5 996.8,955.1 997.7,951.7 C998.6,948.3 999.5,944.8 1000.3,941.4 C1001.1,937.9 1001.9,934.5 1002.7,931.0 C1003.4,927.6 1004.2,924.1 1004.9,920.7 C1005.7,917.2 1006.4,913.8 1007.1,910.3 C1007.9,906.8 1008.6,903.4 1009.3,899.9 C1010.1,896.5 1010.9,893.0 1011.7,889.6 C1012.5,886.2 1013.3,882.7 1014.3,879.3 C1015.2,875.9 1016.1,872.5 1017.2,869.1 C1018.2,865.7 1019.3,862.4 1020.6,859.1 C1021.8,855.8 1023.1,852.5 1024.6,849.3 C1026.0,846.0 1027.6,842.9 1029.4,839.8 C1031.2,836.8 1033.1,833.7 1035.2,830.9 C1037.3,828.1 1039.6,825.4 1042.0,822.9 C1044.5,820.4 1047.2,818.0 1050.0,815.9 C1052.9,813.9 1055.9,812.0 1059.1,810.4 C1062.2,808.8 1065.5,807.5 1068.9,806.4 C1072.2,805.3 1075.7,804.5 1079.2,803.8 C1082.6,803.2 1087.9,802.8 1089.7,802.6"/>
<path d="M955.0,1502.0 C957.0,1501.6 963.1,1500.3 967.2,1499.5 C971.3,1498.8 975.4,1498.1 979.5,1497.5 C983.6,1496.9 987.7,1496.4 991.8,1495.9 C996.0,1495.4 1000.1,1495.0 1004.2,1494.6 C1008.4,1494.2 1012.5,1493.9 1016.6,1493.6 C1020.8,1493.3 1024.9,1493.0 1029.1,1492.8 C1033.2,1492.6 1039.4,1492.3 1041.5,1492.2"/>
<path d="M937.0,1589.0 C939.3,1589.5 946.3,1590.9 951.0,1591.7 C955.7,1592.5 960.4,1593.3 965.1,1594.0 C969.8,1594.7 974.5,1595.3 979.3,1595.8 C984.0,1596.2 991.1,1596.6 993.5,1596.8"/></g>
<polygon points="330.1,425.1 342.5,431.2 336.3,425.1 340.0,425.1 336.3,425.1 342.5,419.0" fill="#000" stroke="#000" stroke-width="1" stroke-linejoin="miter"/>
<polygon points="672.8,91.2 686.6,92.3 678.6,88.9 682.1,87.5 678.6,88.9 682.2,80.9" fill="#000" stroke="#000" stroke-width="1" stroke-linejoin="miter"/>
<polygon points="387.1,582.3 393.2,594.4 391.9,585.9 394.8,588.1 391.9,585.9 400.4,584.8" fill="#000" stroke="#000" stroke-width="1" stroke-linejoin="miter"/>
<polygon points="662.7,1495.3 669.3,1506.6 667.6,1498.5 670.4,1500.4 667.6,1498.5 675.7,1497.0" fill="#000" stroke="#000" stroke-width="1" stroke-linejoin="miter"/>
<polygon points="671.7,51.8 684.8,58.2 678.2,51.8 682.3,51.8 678.2,51.8 684.8,45.4" fill="#000" stroke="#000" stroke-width="1" stroke-linejoin="miter"/>
<polygon points="1035.5,52.2 1046.4,57.5 1041.0,52.2 1043.9,52.2 1041.0,52.2 1046.4,46.9" fill="#000" stroke="#000" stroke-width="1" stroke-linejoin="miter"/>
<polygon points="1054.2,426.1 1065.5,431.7 1059.8,426.1 1063.0,426.1 1059.8,426.1 1065.5,420.5" fill="#000" stroke="#000" stroke-width="1" stroke-linejoin="miter"/>
<polygon points="673.5,80.1 688.0,79.0 679.2,76.8 682.6,74.8 679.2,76.8 681.6,68.0" fill="#000" stroke="#000" stroke-width="1" stroke-linejoin="miter"/>
<polygon points="668.8,164.1 683.3,166.1 675.1,162.1 678.9,160.8 675.1,162.1 679.3,153.9" fill="#000" stroke="#000" stroke-width="1" stroke-linejoin="miter"/>
<polygon points="665.1,269.6 681.2,268.1 671.3,265.8 675.4,263.3 671.3,265.8 673.8,255.9" fill="#000" stroke="#000" stroke-width="1" stroke-linejoin="miter"/>
<polygon points="695.1,371.1 706.0,376.5 700.5,371.1 703.5,371.1 700.5,371.1 706.0,365.7" fill="#000" stroke="#000" stroke-width="1" stroke-linejoin="miter"/>
<polygon points="695.1,374.0 706.0,379.4 700.5,374.0 703.5,374.0 700.5,374.0 706.0,368.6" fill="#000" stroke="#000" stroke-width="1" stroke-linejoin="miter"/>
<polygon points="655.1,478.7 666.5,484.2 660.8,478.6 664.0,478.6 660.8,478.6 666.5,473.0" fill="#000" stroke="#000" stroke-width="1" stroke-linejoin="miter"/>
<polygon points="1094.1,800.8 1106.1,807.6 1100.3,801.1 1104.0,801.4 1100.3,801.1 1106.9,795.4" fill="#000" stroke="#000" stroke-width="1" stroke-linejoin="miter"/>
<polygon points="1094.1,801.7 1106.4,808.1 1100.3,801.9 1104.0,801.9 1100.3,801.9 1106.6,795.9" fill="#000" stroke="#000" stroke-width="1" stroke-linejoin="miter"/>
<polygon points="666.2,632.1 678.1,638.6 672.3,632.3 675.9,632.5 672.3,632.3 678.7,626.6" fill="#000" stroke="#000" stroke-width="1" stroke-linejoin="miter"/>
<polygon points="666.2,634.6 678.9,639.6 672.3,634.1 675.9,633.8 672.3,634.1 677.9,627.6" fill="#000" stroke="#000" stroke-width="1" stroke-linejoin="miter"/>
<polygon points="686.5,738.3 698.1,744.9 692.5,738.6 696.0,738.8 692.5,738.6 698.9,733.1" fill="#000" stroke="#000" stroke-width="1" stroke-linejoin="miter"/>
<polygon points="647.8,843.1 659.3,849.3 653.7,843.3 657.0,843.5 653.7,843.3 659.7,837.9" fill="#000" stroke="#000" stroke-width="1" stroke-linejoin="miter"/>
<polygon points="707.9,948.8 719.3,955.0 713.7,949.0 717.0,949.2 713.7,949.0 719.7,943.6" fill="#000" stroke="#000" stroke-width="1" stroke-linejoin="miter"/>
<polygon points="693.2,1053.8 704.7,1060.2 699.1,1054.1 702.5,1054.3 699.1,1054.1 705.3,1048.6" fill="#000" stroke="#000" stroke-width="1" stroke-linejoin="miter"/>
<polygon points="660.1,1158.1 671.1,1164.6 665.8,1158.6 669.0,1158.8 665.8,1158.6 671.9,1153.4" fill="#000" stroke="#000" stroke-width="1" stroke-linejoin="miter"/>
<polygon points="661.2,1255.1 664.6,1266.6 664.9,1259.0 666.8,1261.2 664.9,1259.0 672.4,1259.4" fill="#000" stroke="#000" stroke-width="1" stroke-linejoin="miter"/>
<polygon points="689.2,1368.8 700.1,1375.0 694.9,1369.1 698.0,1369.3 694.9,1369.1 700.9,1364.0" fill="#000" stroke="#000" stroke-width="1" stroke-linejoin="miter"/>
<polygon points="714.0,1494.5 720.5,1507.3 719.2,1498.4 722.3,1500.8 719.2,1498.4 728.1,1497.3" fill="#000" stroke="#000" stroke-width="1" stroke-linejoin="miter"/>
<polygon points="359.3,665.8 373.5,669.0 365.7,664.3 369.6,663.4 365.7,664.3 370.5,656.6" fill="#000" stroke="#000" stroke-width="1" stroke-linejoin="miter"/>
<polygon points="666.2,635.8 679.3,640.0 672.3,634.9 675.9,634.4 672.3,634.9 677.5,628.0" fill="#000" stroke="#000" stroke-width="1" stroke-linejoin="miter"/>
<polygon points="686.6,740.2 698.5,746.1 692.5,740.2 696.0,740.2 692.5,740.2 698.5,734.3" fill="#000" stroke="#000" stroke-width="1" stroke-linejoin="miter"/>
<polygon points="647.8,845.1 659.5,850.9 653.7,845.2 657.0,845.2 653.7,845.2 659.5,839.5" fill="#000" stroke="#000" stroke-width="1" stroke-linejoin="miter"/>
<polygon points="707.9,950.9 719.6,956.5 713.7,950.9 717.0,950.8 713.7,950.9 719.4,945.1" fill="#000" stroke="#000" stroke-width="1" stroke-linejoin="miter"/>
<polygon points="693.2,1055.9 705.1,1061.6 699.1,1055.9 702.5,1055.8 699.1,1055.9 704.9,1050.0" fill="#000" stroke="#000" stroke-width="1" stroke-linejoin="miter"/>
<polygon points="660.2,1160.0 671.5,1165.6 665.8,1160.0 669.0,1160.0 665.8,1160.0 671.5,1154.4" fill="#000" stroke="#000" stroke-width="1" stroke-linejoin="miter"/>
<polygon points="654.7,1263.0 666.3,1269.3 660.6,1263.2 664.0,1263.4 660.6,1263.2 666.7,1257.7" fill="#000" stroke="#000" stroke-width="1" stroke-linejoin="miter"/>
<polygon points="689.2,1368.8 700.1,1375.0 694.9,1369.1 698.0,1369.3 694.9,1369.1 700.9,1364.0" fill="#000" stroke="#000" stroke-width="1" stroke-linejoin="miter"/>
<polygon points="651.9,1494.7 655.9,1508.2 656.2,1499.3 658.8,1502.2 656.2,1499.3 665.1,1499.8" fill="#000" stroke="#000" stroke-width="1" stroke-linejoin="miter"/>
<polygon points="1053.7,426.4 1065.6,432.1 1059.6,426.4 1063.0,426.3 1059.6,426.4 1065.4,420.5" fill="#000" stroke="#000" stroke-width="1" stroke-linejoin="miter"/>
<polygon points="1094.1,803.4 1106.7,809.1 1100.3,803.2 1104.0,803.1 1100.3,803.2 1106.3,796.9" fill="#000" stroke="#000" stroke-width="1" stroke-linejoin="miter"/>
<polygon points="1094.1,802.6 1106.5,808.6 1100.3,802.5 1104.0,802.5 1100.3,802.5 1106.5,796.4" fill="#000" stroke="#000" stroke-width="1" stroke-linejoin="miter"/>
<polygon points="1046.0,1492.2 1057.5,1497.9 1051.7,1492.2 1055.0,1492.2 1051.7,1492.2 1057.5,1486.5" fill="#000" stroke="#000" stroke-width="1" stroke-linejoin="miter"/>
<polygon points="998.0,1596.8 1009.5,1602.5 1003.7,1596.8 1007.0,1596.8 1003.7,1596.8 1009.5,1591.1" fill="#000" stroke="#000" stroke-width="1" stroke-linejoin="miter"/>
<g fill="#fff" stroke="none"><circle cx="325.7" cy="425.1" r="3.95"/>
<circle cx="668.7" cy="92.8" r="3.95"/>
<circle cx="383.5" cy="579.6" r="3.95"/>
<circle cx="659.0" cy="1492.8" r="3.95"/>
<circle cx="667.2" cy="51.8" r="3.95"/>
<circle cx="1031.1" cy="52.2" r="3.95"/>
<circle cx="1049.7" cy="426.1" r="3.95"/>
<circle cx="669.7" cy="82.3" r="3.95"/>
<circle cx="664.6" cy="165.5" r="3.95"/>
<circle cx="661.3" cy="271.9" r="3.95"/>
<circle cx="690.6" cy="371.1" r="3.95"/>
<circle cx="690.6" cy="374.0" r="3.95"/>
<circle cx="650.7" cy="478.7" r="3.95"/>
<circle cx="1089.7" cy="800.5" r="3.95"/>
<circle cx="1089.7" cy="801.6" r="3.95"/>
<circle cx="661.8" cy="631.9" r="3.95"/>
<circle cx="661.8" cy="635.0" r="3.95"/>
<circle cx="682.1" cy="738.0" r="3.95"/>
<circle cx="643.4" cy="842.9" r="3.95"/>
<circle cx="703.5" cy="948.6" r="3.95"/>
<circle cx="688.8" cy="1053.6" r="3.95"/>
<circle cx="655.7" cy="1157.8" r="3.95"/>
<circle cx="658.2" cy="1251.8" r="3.95"/>
<circle cx="684.8" cy="1368.5" r="3.95"/>
<circle cx="710.5" cy="1491.8" r="3.95"/>
<circle cx="355.0" cy="666.8" r="3.95"/>
<circle cx="661.8" cy="636.5" r="3.95"/>
<circle cx="682.1" cy="740.2" r="3.95"/>
<circle cx="643.4" cy="845.1" r="3.95"/>
<circle cx="703.5" cy="951.0" r="3.95"/>
<circle cx="688.8" cy="1056.0" r="3.95"/>
<circle cx="655.7" cy="1160.0" r="3.95"/>
<circle cx="650.3" cy="1262.8" r="3.95"/>
<circle cx="684.8" cy="1368.5" r="3.95"/>
<circle cx="648.9" cy="1491.4" r="3.95"/>
<circle cx="1049.3" cy="426.5" r="3.95"/>
<circle cx="1089.7" cy="803.6" r="3.95"/>
<circle cx="1089.7" cy="802.6" r="3.95"/>
<circle cx="1041.5" cy="1492.2" r="3.95"/>
<circle cx="993.5" cy="1596.8" r="3.95"/></g>
<g fill="none" stroke="#000" stroke-width="1.25"><circle cx="325.7" cy="425.1" r="3.95"/>
<circle cx="668.7" cy="92.8" r="3.95"/>
<circle cx="383.5" cy="579.6" r="3.95"/>
<circle cx="659.0" cy="1492.8" r="3.95"/>
<circle cx="667.2" cy="51.8" r="3.95"/>
<circle cx="1031.1" cy="52.2" r="3.95"/>
<circle cx="1049.7" cy="426.1" r="3.95"/>
<circle cx="669.7" cy="82.3" r="3.95"/>
<circle cx="664.6" cy="165.5" r="3.95"/>
<circle cx="661.3" cy="271.9" r="3.95"/>
<circle cx="690.6" cy="371.1" r="3.95"/>
<circle cx="690.6" cy="374.0" r="3.95"/>
<circle cx="650.7" cy="478.7" r="3.95"/>
<circle cx="1089.7" cy="800.5" r="3.95"/>
<circle cx="1089.7" cy="801.6" r="3.95"/>
<circle cx="661.8" cy="631.9" r="3.95"/>
<circle cx="661.8" cy="635.0" r="3.95"/>
<circle cx="682.1" cy="738.0" r="3.95"/>
<circle cx="643.4" cy="842.9" r="3.95"/>
<circle cx="703.5" cy="948.6" r="3.95"/>
<circle cx="688.8" cy="1053.6" r="3.95"/>
<circle cx="655.7" cy="1157.8" r="3.95"/>
<circle cx="658.2" cy="1251.8" r="3.95"/>
<circle cx="684.8" cy="1368.5" r="3.95"/>
<circle cx="710.5" cy="1491.8" r="3.95"/>
<circle cx="355.0" cy="666.8" r="3.95"/>
<circle cx="661.8" cy="636.5" r="3.95"/>
<circle cx="682.1" cy="740.2" r="3.95"/>
<circle cx="643.4" cy="845.1" r="3.95"/>
<circle cx="703.5" cy="951.0" r="3.95"/>
<circle cx="688.8" cy="1056.0" r="3.95"/>
<circle cx="655.7" cy="1160.0" r="3.95"/>
<circle cx="650.3" cy="1262.8" r="3.95"/>
<circle cx="684.8" cy="1368.5" r="3.95"/>
<circle cx="648.9" cy="1491.4" r="3.95"/>
<circle cx="1049.3" cy="426.5" r="3.95"/>
<circle cx="1089.7" cy="803.6" r="3.95"/>
<circle cx="1089.7" cy="802.6" r="3.95"/>
<circle cx="1041.5" cy="1492.2" r="3.95"/>
<circle cx="993.5" cy="1596.8" r="3.95"/></g>
<g>
<rect x="384.7" y="10.7" width="163.8" height="77.2" fill="#fff"/>
<rect x="386.3" y="12.3" width="160.6" height="26.7" fill="#f4f4f4"/>
<text x="392.24" y="27.7" font-weight="bold" textLength="84.47" lengthAdjust="spacingAndGlyphs">pos_labels</text>
<text x="492.88" y="29.1" textLength="48.71" lengthAdjust="spacingAndGlyphs">[table]</text>
<text x="389.54" y="56.0" textLength="14.71" lengthAdjust="spacingAndGlyphs">...</text>
<text x="430.55" y="79.8" textLength="57.09" lengthAdjust="spacingAndGlyphs">12 rows</text>
<text x="518.10" y="79.8" textLength="25.18" lengthAdjust="spacingAndGlyphs">4 &gt;</text>
<line x1="419.3" y1="65.1" x2="419.3" y2="87.9" stroke="#000" stroke-width="1.3"/>
<line x1="499.1" y1="65.1" x2="499.1" y2="87.9" stroke="#000" stroke-width="1.3"/>
<line x1="384.7" y1="40.0" x2="548.5" y2="40.0" stroke="#000" stroke-width="1.9"/>
<line x1="384.7" y1="63.9" x2="548.5" y2="63.9" stroke="#000" stroke-width="1.9"/>
<rect x="384.7" y="10.7" width="163.8" height="77.2" fill="none" stroke="#000" stroke-width="1.35"/>
</g>
<g>
<rect x="693.3" y="13.2" width="213.2" height="77.2" fill="#fff"/>
<rect x="694.9" y="14.8" width="210.0" height="26.7" fill="#f4f4f4"/>
<text x="700.74" y="30.2" font-weight="bold" textLength="125.60" lengthAdjust="spacingAndGlyphs">inflected_forms</text>
<text x="850.88" y="31.6" textLength="48.71" lengthAdjust="spacingAndGlyphs">[table]</text>
<text x="698.14" y="58.5" textLength="14.71" lengthAdjust="spacingAndGlyphs">...</text>
<text x="698.86" y="82.3" textLength="25.18" lengthAdjust="spacingAndGlyphs">&lt; 3</text>
<text x="775.72" y="82.3" textLength="48.11" lengthAdjust="spacingAndGlyphs">0 rows</text>
<text x="875.97" y="82.3" textLength="25.32" lengthAdjust="spacingAndGlyphs">2 &gt;</text>
<line x1="757.3" y1="67.6" x2="757.3" y2="90.4" stroke="#000" stroke-width="1.3"/>
<line x1="842.5" y1="67.6" x2="842.5" y2="90.4" stroke="#000" stroke-width="1.3"/>
<line x1="693.3" y1="42.5" x2="906.5" y2="42.5" stroke="#000" stroke-width="1.9"/>
<line x1="693.3" y1="66.4" x2="906.5" y2="66.4" stroke="#000" stroke-width="1.9"/>
<rect x="693.3" y="13.2" width="213.2" height="77.2" fill="none" stroke="#000" stroke-width="1.35"/>
</g>
<g>
<rect x="1047.1" y="10.5" width="329.8" height="77.2" fill="#fff"/>
<rect x="1048.7" y="12.1" width="326.6" height="26.7" fill="#f4f4f4"/>
<text x="1054.53" y="27.5" font-weight="bold" textLength="222.61" lengthAdjust="spacingAndGlyphs">inflected_form_translations</text>
<text x="1321.28" y="28.9" textLength="48.71" lengthAdjust="spacingAndGlyphs">[table]</text>
<text x="1051.94" y="55.8" textLength="14.71" lengthAdjust="spacingAndGlyphs">...</text>
<text x="1052.66" y="79.6" textLength="25.09" lengthAdjust="spacingAndGlyphs">&lt; 1</text>
<text x="1195.77" y="79.6" textLength="48.11" lengthAdjust="spacingAndGlyphs">0 rows</text>
<line x1="1155.2" y1="64.9" x2="1155.2" y2="87.7" stroke="#000" stroke-width="1.3"/>
<line x1="1284.7" y1="64.9" x2="1284.7" y2="87.7" stroke="#000" stroke-width="1.3"/>
<line x1="1047.1" y1="39.8" x2="1376.9" y2="39.8" stroke="#000" stroke-width="1.9"/>
<line x1="1047.1" y1="63.7" x2="1376.9" y2="63.7" stroke="#000" stroke-width="1.9"/>
<rect x="1047.1" y="10.5" width="329.8" height="77.2" fill="none" stroke="#000" stroke-width="1.35"/>
</g>
<g>
<rect x="679.8" y="118.8" width="240.4" height="77.2" fill="#fff"/>
<rect x="681.4" y="120.4" width="237.2" height="26.7" fill="#f4f4f4"/>
<text x="687.16" y="135.8" font-weight="bold" textLength="148.69" lengthAdjust="spacingAndGlyphs">entry_translations</text>
<text x="864.58" y="137.2" textLength="48.71" lengthAdjust="spacingAndGlyphs">[table]</text>
<text x="684.64" y="164.1" textLength="14.71" lengthAdjust="spacingAndGlyphs">...</text>
<text x="685.36" y="187.9" textLength="25.09" lengthAdjust="spacingAndGlyphs">&lt; 1</text>
<text x="784.67" y="187.9" textLength="48.11" lengthAdjust="spacingAndGlyphs">0 rows</text>
<line x1="758.8" y1="173.2" x2="758.8" y2="196.0" stroke="#000" stroke-width="1.3"/>
<line x1="858.9" y1="173.2" x2="858.9" y2="196.0" stroke="#000" stroke-width="1.3"/>
<line x1="679.8" y1="148.1" x2="920.2" y2="148.1" stroke="#000" stroke-width="1.9"/>
<line x1="679.8" y1="172.0" x2="920.2" y2="172.0" stroke="#000" stroke-width="1.9"/>
<rect x="679.8" y="118.8" width="240.4" height="77.2" fill="none" stroke="#000" stroke-width="1.35"/>
</g>
<g>
<rect x="675.6" y="224.0" width="248.4" height="77.2" fill="#fff"/>
<rect x="677.2" y="225.6" width="245.2" height="26.7" fill="#f4f4f4"/>
<text x="682.97" y="241.0" font-weight="bold" textLength="154.65" lengthAdjust="spacingAndGlyphs">entry_lexical_fields</text>
<text x="868.38" y="242.4" textLength="48.71" lengthAdjust="spacingAndGlyphs">[table]</text>
<text x="680.44" y="269.3" textLength="14.71" lengthAdjust="spacingAndGlyphs">...</text>
<text x="681.17" y="293.1" textLength="24.99" lengthAdjust="spacingAndGlyphs">&lt; 2</text>
<text x="776.57" y="293.1" textLength="48.11" lengthAdjust="spacingAndGlyphs">0 rows</text>
<text x="893.53" y="293.1" textLength="25.25" lengthAdjust="spacingAndGlyphs">1 &gt;</text>
<line x1="752.0" y1="278.4" x2="752.0" y2="301.2" stroke="#000" stroke-width="1.3"/>
<line x1="849.5" y1="278.4" x2="849.5" y2="301.2" stroke="#000" stroke-width="1.3"/>
<line x1="675.6" y1="253.3" x2="924.0" y2="253.3" stroke="#000" stroke-width="1.9"/>
<line x1="675.6" y1="277.2" x2="924.0" y2="277.2" stroke="#000" stroke-width="1.9"/>
<rect x="675.6" y="224.0" width="248.4" height="77.2" fill="none" stroke="#000" stroke-width="1.35"/>
</g>
<g>
<rect x="706.7" y="329.4" width="187.9" height="77.2" fill="#fff"/>
<rect x="708.3" y="331.0" width="184.7" height="26.7" fill="#f4f4f4"/>
<text x="714.06" y="346.4" font-weight="bold" textLength="103.85" lengthAdjust="spacingAndGlyphs">entry_parent</text>
<text x="838.98" y="347.8" textLength="48.71" lengthAdjust="spacingAndGlyphs">[table]</text>
<text x="711.54" y="374.7" textLength="14.71" lengthAdjust="spacingAndGlyphs">...</text>
<text x="712.27" y="398.5" textLength="24.99" lengthAdjust="spacingAndGlyphs">&lt; 2</text>
<text x="785.19" y="398.5" textLength="48.19" lengthAdjust="spacingAndGlyphs">2 rows</text>
<line x1="768.0" y1="383.8" x2="768.0" y2="406.6" stroke="#000" stroke-width="1.3"/>
<line x1="850.9" y1="383.8" x2="850.9" y2="406.6" stroke="#000" stroke-width="1.3"/>
<line x1="706.7" y1="358.7" x2="894.6" y2="358.7" stroke="#000" stroke-width="1.9"/>
<line x1="706.7" y1="382.6" x2="894.6" y2="382.6" stroke="#000" stroke-width="1.9"/>
<rect x="706.7" y="329.4" width="187.9" height="77.2" fill="none" stroke="#000" stroke-width="1.35"/>
</g>
<g>
<rect x="666.8" y="435.0" width="266.6" height="77.2" fill="#fff"/>
<rect x="668.4" y="436.6" width="263.4" height="26.7" fill="#f4f4f4"/>
<text x="674.18" y="452.0" font-weight="bold" textLength="168.65" lengthAdjust="spacingAndGlyphs">entry_phenomenoms</text>
<text x="877.78" y="453.4" textLength="48.71" lengthAdjust="spacingAndGlyphs">[table]</text>
<text x="671.64" y="480.3" textLength="14.71" lengthAdjust="spacingAndGlyphs">...</text>
<text x="672.37" y="504.1" textLength="24.99" lengthAdjust="spacingAndGlyphs">&lt; 2</text>
<text x="776.47" y="504.1" textLength="48.11" lengthAdjust="spacingAndGlyphs">0 rows</text>
<text x="902.93" y="504.1" textLength="25.25" lengthAdjust="spacingAndGlyphs">1 &gt;</text>
<line x1="749.3" y1="489.4" x2="749.3" y2="512.2" stroke="#000" stroke-width="1.3"/>
<line x1="852.0" y1="489.4" x2="852.0" y2="512.2" stroke="#000" stroke-width="1.3"/>
<line x1="666.8" y1="464.3" x2="933.4" y2="464.3" stroke="#000" stroke-width="1.9"/>
<line x1="666.8" y1="488.2" x2="933.4" y2="488.2" stroke="#000" stroke-width="1.9"/>
<rect x="666.8" y="435.0" width="266.6" height="77.2" fill="none" stroke="#000" stroke-width="1.35"/>
</g>
<g>
<rect x="1065.7" y="385.2" width="292.4" height="77.2" fill="#fff"/>
<rect x="1067.3" y="386.8" width="289.2" height="26.7" fill="#f4f4f4"/>
<text x="1073.14" y="402.2" font-weight="bold" textLength="190.60" lengthAdjust="spacingAndGlyphs">inflected_form_variants</text>
<text x="1302.48" y="403.6" textLength="48.71" lengthAdjust="spacingAndGlyphs">[table]</text>
<text x="1070.54" y="430.5" textLength="14.71" lengthAdjust="spacingAndGlyphs">...</text>
<text x="1071.27" y="454.3" textLength="25.03" lengthAdjust="spacingAndGlyphs">&lt; 5</text>
<text x="1188.32" y="454.3" textLength="48.11" lengthAdjust="spacingAndGlyphs">0 rows</text>
<text x="1327.63" y="454.3" textLength="25.25" lengthAdjust="spacingAndGlyphs">1 &gt;</text>
<line x1="1156.6" y1="439.6" x2="1156.6" y2="462.4" stroke="#000" stroke-width="1.3"/>
<line x1="1268.4" y1="439.6" x2="1268.4" y2="462.4" stroke="#000" stroke-width="1.3"/>
<line x1="1065.7" y1="414.5" x2="1358.1" y2="414.5" stroke="#000" stroke-width="1.9"/>
<line x1="1065.7" y1="438.4" x2="1358.1" y2="438.4" stroke="#000" stroke-width="1.9"/>
<rect x="1065.7" y="385.2" width="292.4" height="77.2" fill="none" stroke="#000" stroke-width="1.35"/>
</g>
<g>
<rect x="380.6" y="594.7" width="171.8" height="77.2" fill="#fff"/>
<rect x="382.2" y="596.3" width="168.6" height="26.7" fill="#f4f4f4"/>
<text x="387.94" y="611.7" font-weight="bold" textLength="57.73" lengthAdjust="spacingAndGlyphs">entries</text>
<text x="496.78" y="613.1" textLength="48.71" lengthAdjust="spacingAndGlyphs">[table]</text>
<text x="385.44" y="640.0" textLength="14.71" lengthAdjust="spacingAndGlyphs">...</text>
<text x="386.17" y="663.8" textLength="24.99" lengthAdjust="spacingAndGlyphs">&lt; 2</text>
<text x="417.23" y="663.8" textLength="89.10" lengthAdjust="spacingAndGlyphs">46,858 rows</text>
<text x="512.97" y="663.8" textLength="34.19" lengthAdjust="spacingAndGlyphs">18 &gt;</text>
<line x1="413.9" y1="649.1" x2="413.9" y2="671.9" stroke="#000" stroke-width="1.3"/>
<line x1="509.9" y1="649.1" x2="509.9" y2="671.9" stroke="#000" stroke-width="1.3"/>
<line x1="380.6" y1="624.0" x2="552.4" y2="624.0" stroke="#000" stroke-width="1.9"/>
<line x1="380.6" y1="647.9" x2="552.4" y2="647.9" stroke="#000" stroke-width="1.9"/>
<rect x="380.6" y="594.7" width="171.8" height="77.2" fill="none" stroke="#000" stroke-width="1.35"/>
</g>
<g>
<rect x="57.7" y="641.2" width="177.7" height="77.2" fill="#fff"/>
<rect x="59.3" y="642.8" width="174.5" height="26.7" fill="#f4f4f4"/>
<text x="65.07" y="658.2" font-weight="bold" textLength="94.66" lengthAdjust="spacingAndGlyphs">entry_types</text>
<text x="179.78" y="659.6" textLength="48.71" lengthAdjust="spacingAndGlyphs">[table]</text>
<text x="62.54" y="686.5" textLength="14.71" lengthAdjust="spacingAndGlyphs">...</text>
<text x="114.67" y="710.3" textLength="47.97" lengthAdjust="spacingAndGlyphs">5 rows</text>
<text x="204.87" y="710.3" textLength="25.32" lengthAdjust="spacingAndGlyphs">2 &gt;</text>
<line x1="99.3" y1="695.6" x2="99.3" y2="718.4" stroke="#000" stroke-width="1.3"/>
<line x1="178.1" y1="695.6" x2="178.1" y2="718.4" stroke="#000" stroke-width="1.3"/>
<line x1="57.7" y1="670.5" x2="235.4" y2="670.5" stroke="#000" stroke-width="1.9"/>
<line x1="57.7" y1="694.4" x2="235.4" y2="694.4" stroke="#000" stroke-width="1.9"/>
<rect x="57.7" y="641.2" width="177.7" height="77.2" fill="none" stroke="#000" stroke-width="1.35"/>
</g>
<g>
<rect x="678.6" y="592.3" width="242.7" height="77.2" fill="#fff"/>
<rect x="680.2" y="593.9" width="239.5" height="26.7" fill="#f4f4f4"/>
<text x="685.97" y="609.3" font-weight="bold" textLength="149.67" lengthAdjust="spacingAndGlyphs">entry_etymologies</text>
<text x="865.68" y="610.7" textLength="48.71" lengthAdjust="spacingAndGlyphs">[table]</text>
<text x="683.44" y="637.6" textLength="14.71" lengthAdjust="spacingAndGlyphs">...</text>
<text x="684.16" y="661.4" textLength="25.27" lengthAdjust="spacingAndGlyphs">&lt; 4</text>
<text x="755.43" y="661.4" textLength="89.10" lengthAdjust="spacingAndGlyphs">49,760 rows</text>
<text x="890.83" y="661.4" textLength="25.25" lengthAdjust="spacingAndGlyphs">1 &gt;</text>
<line x1="738.8" y1="646.7" x2="738.8" y2="669.5" stroke="#000" stroke-width="1.3"/>
<line x1="861.4" y1="646.7" x2="861.4" y2="669.5" stroke="#000" stroke-width="1.3"/>
<line x1="678.6" y1="621.6" x2="921.3" y2="621.6" stroke="#000" stroke-width="1.9"/>
<line x1="678.6" y1="645.5" x2="921.3" y2="645.5" stroke="#000" stroke-width="1.9"/>
<rect x="678.6" y="592.3" width="242.7" height="77.2" fill="none" stroke="#000" stroke-width="1.35"/>
</g>
<g>
<rect x="698.7" y="698.0" width="202.6" height="77.2" fill="#fff"/>
<rect x="700.3" y="699.6" width="199.4" height="26.7" fill="#f4f4f4"/>
<text x="706.06" y="715.0" font-weight="bold" textLength="116.68" lengthAdjust="spacingAndGlyphs">entry_variants</text>
<text x="845.68" y="716.4" textLength="48.71" lengthAdjust="spacingAndGlyphs">[table]</text>
<text x="703.54" y="743.3" textLength="14.71" lengthAdjust="spacingAndGlyphs">...</text>
<text x="704.25" y="767.1" textLength="25.44" lengthAdjust="spacingAndGlyphs">&lt; 6</text>
<text x="755.58" y="767.1" textLength="88.95" lengthAdjust="spacingAndGlyphs">33,943 rows</text>
<text x="871.03" y="767.1" textLength="25.05" lengthAdjust="spacingAndGlyphs">3 &gt;</text>
<line x1="745.5" y1="752.4" x2="745.5" y2="775.2" stroke="#000" stroke-width="1.3"/>
<line x1="854.7" y1="752.4" x2="854.7" y2="775.2" stroke="#000" stroke-width="1.3"/>
<line x1="698.7" y1="727.3" x2="901.3" y2="727.3" stroke="#000" stroke-width="1.9"/>
<line x1="698.7" y1="751.2" x2="901.3" y2="751.2" stroke="#000" stroke-width="1.9"/>
<rect x="698.7" y="698.0" width="202.6" height="77.2" fill="none" stroke="#000" stroke-width="1.35"/>
</g>
<g>
<rect x="1105.8" y="761.5" width="212.4" height="77.2" fill="#fff"/>
<rect x="1107.4" y="763.1" width="209.2" height="26.7" fill="#f4f4f4"/>
<text x="1113.17" y="778.5" font-weight="bold" textLength="125.66" lengthAdjust="spacingAndGlyphs">entry_crossrefs</text>
<text x="1262.58" y="779.9" textLength="48.71" lengthAdjust="spacingAndGlyphs">[table]</text>
<text x="1110.64" y="806.8" textLength="14.71" lengthAdjust="spacingAndGlyphs">...</text>
<text x="1111.36" y="830.6" textLength="25.27" lengthAdjust="spacingAndGlyphs">&lt; 4</text>
<text x="1188.47" y="830.6" textLength="48.11" lengthAdjust="spacingAndGlyphs">0 rows</text>
<text x="1287.73" y="830.6" textLength="25.25" lengthAdjust="spacingAndGlyphs">1 &gt;</text>
<line x1="1169.9" y1="815.9" x2="1169.9" y2="838.7" stroke="#000" stroke-width="1.3"/>
<line x1="1255.4" y1="815.9" x2="1255.4" y2="838.7" stroke="#000" stroke-width="1.3"/>
<line x1="1105.8" y1="790.8" x2="1318.2" y2="790.8" stroke="#000" stroke-width="1.9"/>
<line x1="1105.8" y1="814.7" x2="1318.2" y2="814.7" stroke="#000" stroke-width="1.9"/>
<rect x="1105.8" y="761.5" width="212.4" height="77.2" fill="none" stroke="#000" stroke-width="1.35"/>
</g>
<g>
<rect x="659.7" y="802.8" width="281.7" height="77.2" fill="#fff"/>
<rect x="661.3" y="804.4" width="278.5" height="26.7" fill="#f4f4f4"/>
<text x="667.08" y="819.8" font-weight="bold" textLength="182.65" lengthAdjust="spacingAndGlyphs">original_entry_sources</text>
<text x="885.78" y="821.2" textLength="48.71" lengthAdjust="spacingAndGlyphs">[table]</text>
<text x="664.54" y="848.1" textLength="14.71" lengthAdjust="spacingAndGlyphs">...</text>
<text x="665.27" y="871.9" textLength="24.99" lengthAdjust="spacingAndGlyphs">&lt; 2</text>
<text x="764.68" y="871.9" textLength="89.10" lengthAdjust="spacingAndGlyphs">45,503 rows</text>
<line x1="738.6" y1="857.2" x2="738.6" y2="880.0" stroke="#000" stroke-width="1.3"/>
<line x1="880.1" y1="857.2" x2="880.1" y2="880.0" stroke="#000" stroke-width="1.3"/>
<line x1="659.7" y1="832.1" x2="941.4" y2="832.1" stroke="#000" stroke-width="1.9"/>
<line x1="659.7" y1="856.0" x2="941.4" y2="856.0" stroke="#000" stroke-width="1.9"/>
<rect x="659.7" y="802.8" width="281.7" height="77.2" fill="none" stroke="#000" stroke-width="1.35"/>
</g>
<g>
<rect x="719.9" y="908.4" width="161.5" height="77.2" fill="#fff"/>
<rect x="721.5" y="910.0" width="158.3" height="26.7" fill="#f4f4f4"/>
<text x="727.42" y="925.4" font-weight="bold" textLength="83.51" lengthAdjust="spacingAndGlyphs">responses</text>
<text x="825.78" y="926.8" textLength="48.71" lengthAdjust="spacingAndGlyphs">[table]</text>
<text x="724.74" y="953.7" textLength="14.71" lengthAdjust="spacingAndGlyphs">...</text>
<text x="725.45" y="977.5" textLength="25.44" lengthAdjust="spacingAndGlyphs">&lt; 6</text>
<text x="776.57" y="977.5" textLength="48.11" lengthAdjust="spacingAndGlyphs">0 rows</text>
<text x="850.87" y="977.5" textLength="25.32" lengthAdjust="spacingAndGlyphs">2 &gt;</text>
<line x1="766.7" y1="962.8" x2="766.7" y2="985.6" stroke="#000" stroke-width="1.3"/>
<line x1="834.8" y1="962.8" x2="834.8" y2="985.6" stroke="#000" stroke-width="1.3"/>
<line x1="719.9" y1="937.7" x2="881.4" y2="937.7" stroke="#000" stroke-width="1.9"/>
<line x1="719.9" y1="961.6" x2="881.4" y2="961.6" stroke="#000" stroke-width="1.9"/>
<rect x="719.9" y="908.4" width="161.5" height="77.2" fill="none" stroke="#000" stroke-width="1.35"/>
</g>
<g>
<rect x="705.4" y="1013.4" width="189.2" height="77.2" fill="#fff"/>
<rect x="707.0" y="1015.0" width="186.0" height="26.7" fill="#f4f4f4"/>
<text x="712.78" y="1030.4" font-weight="bold" textLength="106.65" lengthAdjust="spacingAndGlyphs">entry_senses</text>
<text x="838.98" y="1031.8" textLength="48.71" lengthAdjust="spacingAndGlyphs">[table]</text>
<text x="710.24" y="1058.7" textLength="14.71" lengthAdjust="spacingAndGlyphs">...</text>
<text x="710.97" y="1082.5" textLength="24.99" lengthAdjust="spacingAndGlyphs">&lt; 2</text>
<text x="751.58" y="1082.5" textLength="98.12" lengthAdjust="spacingAndGlyphs">159,311 rows</text>
<text x="864.11" y="1082.5" textLength="25.27" lengthAdjust="spacingAndGlyphs">8 &gt;</text>
<line x1="745.3" y1="1067.8" x2="745.3" y2="1090.6" stroke="#000" stroke-width="1.3"/>
<line x1="856.2" y1="1067.8" x2="856.2" y2="1090.6" stroke="#000" stroke-width="1.3"/>
<line x1="705.4" y1="1042.7" x2="894.6" y2="1042.7" stroke="#000" stroke-width="1.9"/>
<line x1="705.4" y1="1066.6" x2="894.6" y2="1066.6" stroke="#000" stroke-width="1.9"/>
<rect x="705.4" y="1013.4" width="189.2" height="77.2" fill="none" stroke="#000" stroke-width="1.35"/>
</g>
<g>
<rect x="396.5" y="1118.7" width="139.9" height="77.2" fill="#fff"/>
<rect x="398.1" y="1120.3" width="136.7" height="26.7" fill="#f4f4f4"/>
<text x="404.06" y="1135.7" font-weight="bold" textLength="63.46" lengthAdjust="spacingAndGlyphs">sources</text>
<text x="480.78" y="1137.1" textLength="48.71" lengthAdjust="spacingAndGlyphs">[table]</text>
<text x="401.34" y="1164.0" textLength="14.71" lengthAdjust="spacingAndGlyphs">...</text>
<text x="402.06" y="1187.8" textLength="25.09" lengthAdjust="spacingAndGlyphs">&lt; 1</text>
<text x="433.30" y="1187.8" textLength="57.09" lengthAdjust="spacingAndGlyphs">10 rows</text>
<text x="496.97" y="1187.8" textLength="34.19" lengthAdjust="spacingAndGlyphs">17 &gt;</text>
<line x1="430.0" y1="1173.1" x2="430.0" y2="1195.9" stroke="#000" stroke-width="1.3"/>
<line x1="493.9" y1="1173.1" x2="493.9" y2="1195.9" stroke="#000" stroke-width="1.3"/>
<line x1="396.5" y1="1148.0" x2="536.4" y2="1148.0" stroke="#000" stroke-width="1.9"/>
<line x1="396.5" y1="1171.9" x2="536.4" y2="1171.9" stroke="#000" stroke-width="1.9"/>
<rect x="396.5" y="1118.7" width="139.9" height="77.2" fill="none" stroke="#000" stroke-width="1.35"/>
</g>
<g>
<rect x="671.8" y="1119.0" width="257.4" height="77.2" fill="#fff"/>
<rect x="673.4" y="1120.6" width="254.2" height="26.7" fill="#f4f4f4"/>
<text x="679.18" y="1136.0" font-weight="bold" textLength="161.64" lengthAdjust="spacingAndGlyphs">entry_display_forms</text>
<text x="873.58" y="1137.4" textLength="48.71" lengthAdjust="spacingAndGlyphs">[table]</text>
<text x="676.64" y="1164.3" textLength="14.71" lengthAdjust="spacingAndGlyphs">...</text>
<text x="677.37" y="1188.1" textLength="24.99" lengthAdjust="spacingAndGlyphs">&lt; 2</text>
<text x="776.47" y="1188.1" textLength="48.11" lengthAdjust="spacingAndGlyphs">0 rows</text>
<text x="898.73" y="1188.1" textLength="25.25" lengthAdjust="spacingAndGlyphs">1 &gt;</text>
<line x1="750.8" y1="1173.4" x2="750.8" y2="1196.2" stroke="#000" stroke-width="1.3"/>
<line x1="850.5" y1="1173.4" x2="850.5" y2="1196.2" stroke="#000" stroke-width="1.3"/>
<line x1="671.8" y1="1148.3" x2="929.2" y2="1148.3" stroke="#000" stroke-width="1.9"/>
<line x1="671.8" y1="1172.2" x2="929.2" y2="1172.2" stroke="#000" stroke-width="1.9"/>
<rect x="671.8" y="1119.0" width="257.4" height="77.2" fill="none" stroke="#000" stroke-width="1.35"/>
</g>
<g>
<rect x="666.7" y="1224.0" width="267.9" height="77.2" fill="#fff"/>
<rect x="668.3" y="1225.6" width="264.7" height="26.7" fill="#f4f4f4"/>
<text x="674.08" y="1241.0" font-weight="bold" textLength="171.64" lengthAdjust="spacingAndGlyphs">entry_historical_docs</text>
<text x="878.98" y="1242.4" textLength="48.71" lengthAdjust="spacingAndGlyphs">[table]</text>
<text x="671.54" y="1269.3" textLength="14.71" lengthAdjust="spacingAndGlyphs">...</text>
<text x="672.26" y="1293.1" textLength="25.18" lengthAdjust="spacingAndGlyphs">&lt; 3</text>
<text x="756.91" y="1293.1" textLength="88.97" lengthAdjust="spacingAndGlyphs">58,650 rows</text>
<text x="904.13" y="1293.1" textLength="25.25" lengthAdjust="spacingAndGlyphs">1 &gt;</text>
<line x1="736.2" y1="1278.4" x2="736.2" y2="1301.2" stroke="#000" stroke-width="1.3"/>
<line x1="866.7" y1="1278.4" x2="866.7" y2="1301.2" stroke="#000" stroke-width="1.3"/>
<line x1="666.7" y1="1253.3" x2="934.6" y2="1253.3" stroke="#000" stroke-width="1.9"/>
<line x1="666.7" y1="1277.2" x2="934.6" y2="1277.2" stroke="#000" stroke-width="1.9"/>
<rect x="666.7" y="1224.0" width="267.9" height="77.2" fill="none" stroke="#000" stroke-width="1.35"/>
</g>
<g>
<rect x="701.3" y="1329.6" width="199.0" height="77.2" fill="#fff"/>
<rect x="702.9" y="1331.2" width="195.8" height="26.7" fill="#f4f4f4"/>
<text x="708.68" y="1346.6" font-weight="bold" textLength="113.65" lengthAdjust="spacingAndGlyphs">entry_sources</text>
<text x="844.68" y="1348.0" textLength="48.71" lengthAdjust="spacingAndGlyphs">[table]</text>
<text x="706.14" y="1374.9" textLength="14.71" lengthAdjust="spacingAndGlyphs">...</text>
<text x="706.87" y="1398.7" textLength="24.99" lengthAdjust="spacingAndGlyphs">&lt; 2</text>
<text x="780.05" y="1398.7" textLength="57.20" lengthAdjust="spacingAndGlyphs">27 rows</text>
<line x1="762.8" y1="1384.0" x2="762.8" y2="1406.8" stroke="#000" stroke-width="1.3"/>
<line x1="854.8" y1="1384.0" x2="854.8" y2="1406.8" stroke="#000" stroke-width="1.3"/>
<line x1="701.3" y1="1358.9" x2="900.3" y2="1358.9" stroke="#000" stroke-width="1.9"/>
<line x1="701.3" y1="1382.8" x2="900.3" y2="1382.8" stroke="#000" stroke-width="1.9"/>
<rect x="701.3" y="1329.6" width="199.0" height="77.2" fill="none" stroke="#000" stroke-width="1.35"/>
</g>
<g>
<rect x="1057.9" y="1450.8" width="306.6" height="77.2" fill="#fff"/>
<rect x="1059.5" y="1452.4" width="303.4" height="26.7" fill="#f4f4f4"/>
<text x="1065.42" y="1467.8" font-weight="bold" textLength="202.50" lengthAdjust="spacingAndGlyphs">normative_form_changes</text>
<text x="1308.88" y="1469.2" textLength="48.71" lengthAdjust="spacingAndGlyphs">[table]</text>
<text x="1062.74" y="1496.1" textLength="14.71" lengthAdjust="spacingAndGlyphs">...</text>
<text x="1063.46" y="1519.9" textLength="25.09" lengthAdjust="spacingAndGlyphs">&lt; 1</text>
<text x="1195.47" y="1519.9" textLength="48.11" lengthAdjust="spacingAndGlyphs">0 rows</text>
<line x1="1159.0" y1="1505.2" x2="1159.0" y2="1528.0" stroke="#000" stroke-width="1.3"/>
<line x1="1280.3" y1="1505.2" x2="1280.3" y2="1528.0" stroke="#000" stroke-width="1.3"/>
<line x1="1057.9" y1="1480.1" x2="1364.5" y2="1480.1" stroke="#000" stroke-width="1.9"/>
<line x1="1057.9" y1="1504.0" x2="1364.5" y2="1504.0" stroke="#000" stroke-width="1.9"/>
<rect x="1057.9" y="1450.8" width="306.6" height="77.2" fill="none" stroke="#000" stroke-width="1.35"/>
</g>
<g>
<rect x="655.9" y="1507.0" width="288.2" height="77.2" fill="#fff"/>
<rect x="657.5" y="1508.6" width="285.0" height="26.7" fill="#f4f4f4"/>
<text x="663.41" y="1524.0" font-weight="bold" textLength="186.52" lengthAdjust="spacingAndGlyphs">normative_entry_forms</text>
<text x="888.48" y="1525.4" textLength="48.71" lengthAdjust="spacingAndGlyphs">[table]</text>
<text x="660.74" y="1552.3" textLength="14.71" lengthAdjust="spacingAndGlyphs">...</text>
<text x="661.46" y="1576.1" textLength="25.18" lengthAdjust="spacingAndGlyphs">&lt; 3</text>
<text x="771.85" y="1576.1" textLength="57.20" lengthAdjust="spacingAndGlyphs">27 rows</text>
<text x="913.57" y="1576.1" textLength="25.32" lengthAdjust="spacingAndGlyphs">2 &gt;</text>
<line x1="742.5" y1="1561.4" x2="742.5" y2="1584.2" stroke="#000" stroke-width="1.3"/>
<line x1="858.7" y1="1561.4" x2="858.7" y2="1584.2" stroke="#000" stroke-width="1.3"/>
<line x1="655.9" y1="1536.3" x2="944.1" y2="1536.3" stroke="#000" stroke-width="1.9"/>
<line x1="655.9" y1="1560.2" x2="944.1" y2="1560.2" stroke="#000" stroke-width="1.9"/>
<rect x="655.9" y="1507.0" width="288.2" height="77.2" fill="none" stroke="#000" stroke-width="1.35"/>
</g>
<g>
<rect x="1010.0" y="1556.1" width="404.0" height="77.2" fill="#fff"/>
<rect x="1011.6" y="1557.7" width="400.8" height="26.7" fill="#f4f4f4"/>
<text x="1017.51" y="1573.1" font-weight="bold" textLength="283.53" lengthAdjust="spacingAndGlyphs">normative_entry_form_translations</text>
<text x="1358.38" y="1574.5" textLength="48.71" lengthAdjust="spacingAndGlyphs">[table]</text>
<text x="1014.84" y="1601.4" textLength="14.71" lengthAdjust="spacingAndGlyphs">...</text>
<text x="1015.56" y="1625.2" textLength="25.09" lengthAdjust="spacingAndGlyphs">&lt; 1</text>
<text x="1196.22" y="1625.2" textLength="48.11" lengthAdjust="spacingAndGlyphs">0 rows</text>
<line x1="1143.0" y1="1610.5" x2="1143.0" y2="1633.3" stroke="#000" stroke-width="1.3"/>
<line x1="1297.8" y1="1610.5" x2="1297.8" y2="1633.3" stroke="#000" stroke-width="1.3"/>
<line x1="1010.0" y1="1585.4" x2="1414.0" y2="1585.4" stroke="#000" stroke-width="1.9"/>
<line x1="1010.0" y1="1609.3" x2="1414.0" y2="1609.3" stroke="#000" stroke-width="1.9"/>
<rect x="1010.0" y="1556.1" width="404.0" height="77.2" fill="none" stroke="#000" stroke-width="1.35"/>
</g>
<g>
<rect x="18.0" y="380.2" width="256.2" height="231.0" fill="#fff"/>
<rect x="20.6" y="382.8" width="251.0" height="26.9" fill="#f4f4f4"/>
<text x="26.93" y="398.0" font-weight="bold" textLength="51.53" lengthAdjust="spacingAndGlyphs">status</text>
<text x="219.18" y="399.6" textLength="48.71" lengthAdjust="spacingAndGlyphs">[table]</text>
<text x="46.82" y="429.0" textLength="65.63" lengthAdjust="spacingAndGlyphs">status_id</text>
<text x="161.28" y="429.0" textLength="94.24" lengthAdjust="spacingAndGlyphs">varchar[255]</text>
<line x1="18.0" y1="410.7" x2="274.2" y2="410.7" stroke="#000" stroke-width="1.9"/>
<text x="46.59" y="458.3" textLength="36.16" lengthAdjust="spacingAndGlyphs">color</text>
<text x="161.02" y="458.3" textLength="86.53" lengthAdjust="spacingAndGlyphs">text[65535]</text>
<line x1="18.0" y1="440.0" x2="274.2" y2="440.0" stroke="#000" stroke-width="1.9"/>
<text x="46.59" y="487.6" textLength="39.15" lengthAdjust="spacingAndGlyphs">order</text>
<text x="161.07" y="487.6" textLength="48.51" lengthAdjust="spacingAndGlyphs">int[10]</text>
<line x1="18.0" y1="469.3" x2="274.2" y2="469.3" stroke="#000" stroke-width="1.9"/>
<text x="46.60" y="516.9" textLength="77.36" lengthAdjust="spacingAndGlyphs">created_at</text>
<text x="161.03" y="516.9" textLength="108.51" lengthAdjust="spacingAndGlyphs">timestamp[19]</text>
<line x1="18.0" y1="498.6" x2="274.2" y2="498.6" stroke="#000" stroke-width="1.9"/>
<text x="46.67" y="546.2" textLength="81.29" lengthAdjust="spacingAndGlyphs">updated_at</text>
<text x="161.03" y="546.2" textLength="108.51" lengthAdjust="spacingAndGlyphs">timestamp[19]</text>
<line x1="18.0" y1="527.9" x2="274.2" y2="527.9" stroke="#000" stroke-width="1.9"/>
<text x="46.61" y="575.5" textLength="76.34" lengthAdjust="spacingAndGlyphs">deleted_at</text>
<text x="161.03" y="575.5" textLength="108.51" lengthAdjust="spacingAndGlyphs">timestamp[19]</text>
<line x1="18.0" y1="557.2" x2="274.2" y2="557.2" stroke="#000" stroke-width="1.9"/>
<g fill="#d5df00"><circle cx="33.30" cy="420.75" r="3.35"/><rect x="32.15" y="422.75" width="2.3" height="10.60" rx="0.6"/><rect x="34.20" y="427.95" width="0.8" height="1.1"/><rect x="34.20" y="430.25" width="0.8" height="1.1"/><circle cx="33.30" cy="420.05" r="0.85" fill="#fff"/></g>
<line x1="18.0" y1="586.5" x2="274.2" y2="586.5" stroke="#000" stroke-width="1.9"/>
<line x1="156.6" y1="410.7" x2="156.6" y2="586.5" stroke="#000" stroke-width="1.4"/>
<text x="25.36" y="602.4" textLength="25.30" lengthAdjust="spacingAndGlyphs">&lt; 0</text>
<text x="123.18" y="602.4" textLength="48.10" lengthAdjust="spacingAndGlyphs">4 rows</text>
<text x="242.70" y="602.4" textLength="25.18" lengthAdjust="spacingAndGlyphs">4 &gt;</text>
<line x1="98.2" y1="587.7" x2="98.2" y2="611.2" stroke="#000" stroke-width="1.3"/>
<line x1="196.5" y1="587.7" x2="196.5" y2="611.2" stroke="#000" stroke-width="1.3"/>
<rect x="18.0" y="380.2" width="256.2" height="231.0" fill="none" stroke="#000" stroke-width="3.6"/>
<rect x="19.5" y="381.7" width="253.2" height="228.0" fill="none" stroke="#000" stroke-width="1"/>
</g>
<g>
<rect x="341.7" y="352.0" width="249.8" height="165.3" fill="#fff"/>
<rect x="343.3" y="353.6" width="246.6" height="26.3" fill="#f4f4f4"/>
<text x="349.24" y="369.0" font-weight="bold" textLength="157.51" lengthAdjust="spacingAndGlyphs">status_translations</text>
<text x="535.88" y="370.4" textLength="48.71" lengthAdjust="spacingAndGlyphs">[table]</text>
<text x="386.57" y="399.5" textLength="12.66" lengthAdjust="spacingAndGlyphs">id</text>
<text x="386.62" y="429.2" textLength="65.63" lengthAdjust="spacingAndGlyphs">status_id</text>
<text x="386.57" y="458.4" textLength="42.60" lengthAdjust="spacingAndGlyphs">locale</text>
<g fill="#d5df00"><circle cx="355.50" cy="391.15" r="3.35"/><rect x="354.35" y="393.15" width="2.3" height="10.60" rx="0.6"/><rect x="356.40" y="398.35" width="0.8" height="1.1"/><rect x="356.40" y="400.65" width="0.8" height="1.1"/><circle cx="355.50" cy="390.45" r="0.85" fill="#fff"/></g>
<g fill="#c4c4c4"><circle cx="355.50" cy="420.60" r="3.35"/><rect x="354.35" y="422.60" width="2.3" height="10.60" rx="0.6"/><rect x="356.40" y="427.80" width="0.8" height="1.1"/><rect x="356.40" y="430.10" width="0.8" height="1.1"/><circle cx="355.50" cy="419.90" r="0.85" fill="#fff"/></g>
<text x="346.54" y="485.1" textLength="14.71" lengthAdjust="spacingAndGlyphs">...</text>
<text x="347.26" y="509.2" textLength="25.09" lengthAdjust="spacingAndGlyphs">&lt; 1</text>
<text x="446.65" y="509.2" textLength="57.09" lengthAdjust="spacingAndGlyphs">16 rows</text>
<line x1="420.7" y1="494.5" x2="420.7" y2="517.3" stroke="#000" stroke-width="1.3"/>
<line x1="529.9" y1="494.5" x2="529.9" y2="517.3" stroke="#000" stroke-width="1.3"/>
<line x1="341.7" y1="380.9" x2="591.5" y2="380.9" stroke="#000" stroke-width="1.9"/>
<line x1="341.7" y1="410.6" x2="591.5" y2="410.6" stroke="#000" stroke-width="1.9"/>
<line x1="341.7" y1="439.8" x2="591.5" y2="439.8" stroke="#000" stroke-width="1.9"/>
<line x1="341.7" y1="469.1" x2="591.5" y2="469.1" stroke="#000" stroke-width="1.9"/>
<line x1="341.7" y1="493.3" x2="591.5" y2="493.3" stroke="#000" stroke-width="1.9"/>
<rect x="341.7" y="352.0" width="249.8" height="165.3" fill="none" stroke="#000" stroke-width="1.35"/>
</g>
<text x="16.31" y="1672.8" textLength="189.18" lengthAdjust="spacingAndGlyphs">Generated by SchemaSpy</text>
</svg>
</body></html>
